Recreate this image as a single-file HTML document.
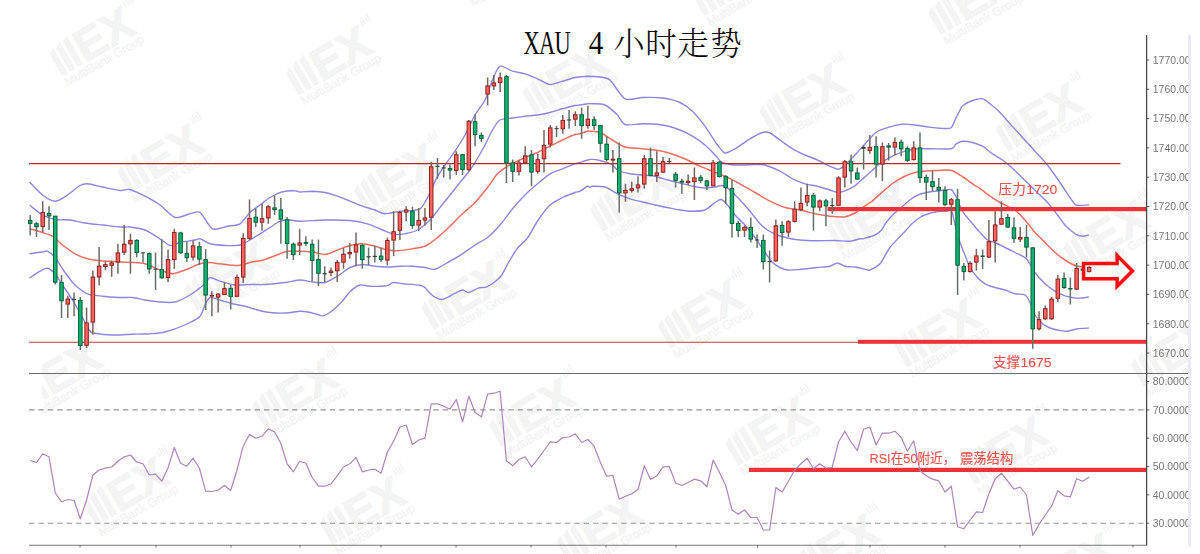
<!DOCTYPE html>
<html lang="zh"><head><meta charset="utf-8"><title>XAU 4 小时走势</title>
<style>
html,body{margin:0;padding:0;background:#fff;}
body{width:1200px;height:554px;overflow:hidden;}
svg{display:block}
</style></head><body>
<svg width="1200" height="554" viewBox="0 0 1200 554">
<defs><filter id="soft" x="0" y="0" width="1200" height="554" filterUnits="userSpaceOnUse"><feGaussianBlur stdDeviation="0.45"/></filter></defs>
<rect width="1200" height="554" fill="#fff"/>
<g font-family="'Liberation Sans', sans-serif" fill="#f4f4f4">
<g transform="translate(263.0,-58.7) rotate(-30)"><path d="M-46,16V-9l6.4,-4.5V16zM-37,16V-11.5l6.4,-4.5V16zM-28,16V-14l6.4,-3V16zM43.5,-12v-6h1.7v6zM46.4,-12v-9h1.7v9zM49.3,-12v-7h1.7v7zM52.2,-12v-10h1.7v10z"/><text x="-19.5" y="16" font-size="45" font-weight="bold" textLength="61" lengthAdjust="spacingAndGlyphs" stroke="#f4f4f4" stroke-width="1.2">EX</text><text x="-46.5" y="27.5" font-size="12.3" textLength="90" stroke="#f4f4f4" stroke-width="0.4" lengthAdjust="spacingAndGlyphs">MultiBank Group</text></g>
<g transform="translate(499.6,-39.7) rotate(-30)"><path d="M-46,16V-9l6.4,-4.5V16zM-37,16V-11.5l6.4,-4.5V16zM-28,16V-14l6.4,-3V16zM43.5,-12v-6h1.7v6zM46.4,-12v-9h1.7v9zM49.3,-12v-7h1.7v7zM52.2,-12v-10h1.7v10z"/><text x="-19.5" y="16" font-size="45" font-weight="bold" textLength="61" lengthAdjust="spacingAndGlyphs" stroke="#f4f4f4" stroke-width="1.2">EX</text><text x="-46.5" y="27.5" font-size="12.3" textLength="90" stroke="#f4f4f4" stroke-width="0.4" lengthAdjust="spacingAndGlyphs">MultiBank Group</text></g>
<g transform="translate(736.2,-20.7) rotate(-30)"><path d="M-46,16V-9l6.4,-4.5V16zM-37,16V-11.5l6.4,-4.5V16zM-28,16V-14l6.4,-3V16zM43.5,-12v-6h1.7v6zM46.4,-12v-9h1.7v9zM49.3,-12v-7h1.7v7zM52.2,-12v-10h1.7v10z"/><text x="-19.5" y="16" font-size="45" font-weight="bold" textLength="61" lengthAdjust="spacingAndGlyphs" stroke="#f4f4f4" stroke-width="1.2">EX</text><text x="-46.5" y="27.5" font-size="12.3" textLength="90" stroke="#f4f4f4" stroke-width="0.4" lengthAdjust="spacingAndGlyphs">MultiBank Group</text></g>
<g transform="translate(972.8,-1.7) rotate(-30)"><path d="M-46,16V-9l6.4,-4.5V16zM-37,16V-11.5l6.4,-4.5V16zM-28,16V-14l6.4,-3V16zM43.5,-12v-6h1.7v6zM46.4,-12v-9h1.7v9zM49.3,-12v-7h1.7v7zM52.2,-12v-10h1.7v10z"/><text x="-19.5" y="16" font-size="45" font-weight="bold" textLength="61" lengthAdjust="spacingAndGlyphs" stroke="#f4f4f4" stroke-width="1.2">EX</text><text x="-46.5" y="27.5" font-size="12.3" textLength="90" stroke="#f4f4f4" stroke-width="0.4" lengthAdjust="spacingAndGlyphs">MultiBank Group</text></g>
<g transform="translate(94.0,39.5) rotate(-30)"><path d="M-46,16V-9l6.4,-4.5V16zM-37,16V-11.5l6.4,-4.5V16zM-28,16V-14l6.4,-3V16zM43.5,-12v-6h1.7v6zM46.4,-12v-9h1.7v9zM49.3,-12v-7h1.7v7zM52.2,-12v-10h1.7v10z"/><text x="-19.5" y="16" font-size="45" font-weight="bold" textLength="61" lengthAdjust="spacingAndGlyphs" stroke="#f4f4f4" stroke-width="1.2">EX</text><text x="-46.5" y="27.5" font-size="12.3" textLength="90" stroke="#f4f4f4" stroke-width="0.4" lengthAdjust="spacingAndGlyphs">MultiBank Group</text></g>
<g transform="translate(330.6,58.5) rotate(-30)"><path d="M-46,16V-9l6.4,-4.5V16zM-37,16V-11.5l6.4,-4.5V16zM-28,16V-14l6.4,-3V16zM43.5,-12v-6h1.7v6zM46.4,-12v-9h1.7v9zM49.3,-12v-7h1.7v7zM52.2,-12v-10h1.7v10z"/><text x="-19.5" y="16" font-size="45" font-weight="bold" textLength="61" lengthAdjust="spacingAndGlyphs" stroke="#f4f4f4" stroke-width="1.2">EX</text><text x="-46.5" y="27.5" font-size="12.3" textLength="90" stroke="#f4f4f4" stroke-width="0.4" lengthAdjust="spacingAndGlyphs">MultiBank Group</text></g>
<g transform="translate(567.2,77.5) rotate(-30)"><path d="M-46,16V-9l6.4,-4.5V16zM-37,16V-11.5l6.4,-4.5V16zM-28,16V-14l6.4,-3V16zM43.5,-12v-6h1.7v6zM46.4,-12v-9h1.7v9zM49.3,-12v-7h1.7v7zM52.2,-12v-10h1.7v10z"/><text x="-19.5" y="16" font-size="45" font-weight="bold" textLength="61" lengthAdjust="spacingAndGlyphs" stroke="#f4f4f4" stroke-width="1.2">EX</text><text x="-46.5" y="27.5" font-size="12.3" textLength="90" stroke="#f4f4f4" stroke-width="0.4" lengthAdjust="spacingAndGlyphs">MultiBank Group</text></g>
<g transform="translate(803.8,96.5) rotate(-30)"><path d="M-46,16V-9l6.4,-4.5V16zM-37,16V-11.5l6.4,-4.5V16zM-28,16V-14l6.4,-3V16zM43.5,-12v-6h1.7v6zM46.4,-12v-9h1.7v9zM49.3,-12v-7h1.7v7zM52.2,-12v-10h1.7v10z"/><text x="-19.5" y="16" font-size="45" font-weight="bold" textLength="61" lengthAdjust="spacingAndGlyphs" stroke="#f4f4f4" stroke-width="1.2">EX</text><text x="-46.5" y="27.5" font-size="12.3" textLength="90" stroke="#f4f4f4" stroke-width="0.4" lengthAdjust="spacingAndGlyphs">MultiBank Group</text></g>
<g transform="translate(1040.4,115.5) rotate(-30)"><path d="M-46,16V-9l6.4,-4.5V16zM-37,16V-11.5l6.4,-4.5V16zM-28,16V-14l6.4,-3V16zM43.5,-12v-6h1.7v6zM46.4,-12v-9h1.7v9zM49.3,-12v-7h1.7v7zM52.2,-12v-10h1.7v10z"/><text x="-19.5" y="16" font-size="45" font-weight="bold" textLength="61" lengthAdjust="spacingAndGlyphs" stroke="#f4f4f4" stroke-width="1.2">EX</text><text x="-46.5" y="27.5" font-size="12.3" textLength="90" stroke="#f4f4f4" stroke-width="0.4" lengthAdjust="spacingAndGlyphs">MultiBank Group</text></g>
<g transform="translate(161.6,156.7) rotate(-30)"><path d="M-46,16V-9l6.4,-4.5V16zM-37,16V-11.5l6.4,-4.5V16zM-28,16V-14l6.4,-3V16zM43.5,-12v-6h1.7v6zM46.4,-12v-9h1.7v9zM49.3,-12v-7h1.7v7zM52.2,-12v-10h1.7v10z"/><text x="-19.5" y="16" font-size="45" font-weight="bold" textLength="61" lengthAdjust="spacingAndGlyphs" stroke="#f4f4f4" stroke-width="1.2">EX</text><text x="-46.5" y="27.5" font-size="12.3" textLength="90" stroke="#f4f4f4" stroke-width="0.4" lengthAdjust="spacingAndGlyphs">MultiBank Group</text></g>
<g transform="translate(398.2,175.7) rotate(-30)"><path d="M-46,16V-9l6.4,-4.5V16zM-37,16V-11.5l6.4,-4.5V16zM-28,16V-14l6.4,-3V16zM43.5,-12v-6h1.7v6zM46.4,-12v-9h1.7v9zM49.3,-12v-7h1.7v7zM52.2,-12v-10h1.7v10z"/><text x="-19.5" y="16" font-size="45" font-weight="bold" textLength="61" lengthAdjust="spacingAndGlyphs" stroke="#f4f4f4" stroke-width="1.2">EX</text><text x="-46.5" y="27.5" font-size="12.3" textLength="90" stroke="#f4f4f4" stroke-width="0.4" lengthAdjust="spacingAndGlyphs">MultiBank Group</text></g>
<g transform="translate(634.8,194.7) rotate(-30)"><path d="M-46,16V-9l6.4,-4.5V16zM-37,16V-11.5l6.4,-4.5V16zM-28,16V-14l6.4,-3V16zM43.5,-12v-6h1.7v6zM46.4,-12v-9h1.7v9zM49.3,-12v-7h1.7v7zM52.2,-12v-10h1.7v10z"/><text x="-19.5" y="16" font-size="45" font-weight="bold" textLength="61" lengthAdjust="spacingAndGlyphs" stroke="#f4f4f4" stroke-width="1.2">EX</text><text x="-46.5" y="27.5" font-size="12.3" textLength="90" stroke="#f4f4f4" stroke-width="0.4" lengthAdjust="spacingAndGlyphs">MultiBank Group</text></g>
<g transform="translate(871.4,213.7) rotate(-30)"><path d="M-46,16V-9l6.4,-4.5V16zM-37,16V-11.5l6.4,-4.5V16zM-28,16V-14l6.4,-3V16zM43.5,-12v-6h1.7v6zM46.4,-12v-9h1.7v9zM49.3,-12v-7h1.7v7zM52.2,-12v-10h1.7v10z"/><text x="-19.5" y="16" font-size="45" font-weight="bold" textLength="61" lengthAdjust="spacingAndGlyphs" stroke="#f4f4f4" stroke-width="1.2">EX</text><text x="-46.5" y="27.5" font-size="12.3" textLength="90" stroke="#f4f4f4" stroke-width="0.4" lengthAdjust="spacingAndGlyphs">MultiBank Group</text></g>
<g transform="translate(1108.0,232.7) rotate(-30)"><path d="M-46,16V-9l6.4,-4.5V16zM-37,16V-11.5l6.4,-4.5V16zM-28,16V-14l6.4,-3V16zM43.5,-12v-6h1.7v6zM46.4,-12v-9h1.7v9zM49.3,-12v-7h1.7v7zM52.2,-12v-10h1.7v10z"/><text x="-19.5" y="16" font-size="45" font-weight="bold" textLength="61" lengthAdjust="spacingAndGlyphs" stroke="#f4f4f4" stroke-width="1.2">EX</text><text x="-46.5" y="27.5" font-size="12.3" textLength="90" stroke="#f4f4f4" stroke-width="0.4" lengthAdjust="spacingAndGlyphs">MultiBank Group</text></g>
<g transform="translate(229.2,273.9) rotate(-30)"><path d="M-46,16V-9l6.4,-4.5V16zM-37,16V-11.5l6.4,-4.5V16zM-28,16V-14l6.4,-3V16zM43.5,-12v-6h1.7v6zM46.4,-12v-9h1.7v9zM49.3,-12v-7h1.7v7zM52.2,-12v-10h1.7v10z"/><text x="-19.5" y="16" font-size="45" font-weight="bold" textLength="61" lengthAdjust="spacingAndGlyphs" stroke="#f4f4f4" stroke-width="1.2">EX</text><text x="-46.5" y="27.5" font-size="12.3" textLength="90" stroke="#f4f4f4" stroke-width="0.4" lengthAdjust="spacingAndGlyphs">MultiBank Group</text></g>
<g transform="translate(465.8,292.9) rotate(-30)"><path d="M-46,16V-9l6.4,-4.5V16zM-37,16V-11.5l6.4,-4.5V16zM-28,16V-14l6.4,-3V16zM43.5,-12v-6h1.7v6zM46.4,-12v-9h1.7v9zM49.3,-12v-7h1.7v7zM52.2,-12v-10h1.7v10z"/><text x="-19.5" y="16" font-size="45" font-weight="bold" textLength="61" lengthAdjust="spacingAndGlyphs" stroke="#f4f4f4" stroke-width="1.2">EX</text><text x="-46.5" y="27.5" font-size="12.3" textLength="90" stroke="#f4f4f4" stroke-width="0.4" lengthAdjust="spacingAndGlyphs">MultiBank Group</text></g>
<g transform="translate(702.4,311.9) rotate(-30)"><path d="M-46,16V-9l6.4,-4.5V16zM-37,16V-11.5l6.4,-4.5V16zM-28,16V-14l6.4,-3V16zM43.5,-12v-6h1.7v6zM46.4,-12v-9h1.7v9zM49.3,-12v-7h1.7v7zM52.2,-12v-10h1.7v10z"/><text x="-19.5" y="16" font-size="45" font-weight="bold" textLength="61" lengthAdjust="spacingAndGlyphs" stroke="#f4f4f4" stroke-width="1.2">EX</text><text x="-46.5" y="27.5" font-size="12.3" textLength="90" stroke="#f4f4f4" stroke-width="0.4" lengthAdjust="spacingAndGlyphs">MultiBank Group</text></g>
<g transform="translate(939.0,330.9) rotate(-30)"><path d="M-46,16V-9l6.4,-4.5V16zM-37,16V-11.5l6.4,-4.5V16zM-28,16V-14l6.4,-3V16zM43.5,-12v-6h1.7v6zM46.4,-12v-9h1.7v9zM49.3,-12v-7h1.7v7zM52.2,-12v-10h1.7v10z"/><text x="-19.5" y="16" font-size="45" font-weight="bold" textLength="61" lengthAdjust="spacingAndGlyphs" stroke="#f4f4f4" stroke-width="1.2">EX</text><text x="-46.5" y="27.5" font-size="12.3" textLength="90" stroke="#f4f4f4" stroke-width="0.4" lengthAdjust="spacingAndGlyphs">MultiBank Group</text></g>
<g transform="translate(1175.6,349.9) rotate(-30)"><path d="M-46,16V-9l6.4,-4.5V16zM-37,16V-11.5l6.4,-4.5V16zM-28,16V-14l6.4,-3V16zM43.5,-12v-6h1.7v6zM46.4,-12v-9h1.7v9zM49.3,-12v-7h1.7v7zM52.2,-12v-10h1.7v10z"/><text x="-19.5" y="16" font-size="45" font-weight="bold" textLength="61" lengthAdjust="spacingAndGlyphs" stroke="#f4f4f4" stroke-width="1.2">EX</text><text x="-46.5" y="27.5" font-size="12.3" textLength="90" stroke="#f4f4f4" stroke-width="0.4" lengthAdjust="spacingAndGlyphs">MultiBank Group</text></g>
<g transform="translate(60.2,372.1) rotate(-30)"><path d="M-46,16V-9l6.4,-4.5V16zM-37,16V-11.5l6.4,-4.5V16zM-28,16V-14l6.4,-3V16zM43.5,-12v-6h1.7v6zM46.4,-12v-9h1.7v9zM49.3,-12v-7h1.7v7zM52.2,-12v-10h1.7v10z"/><text x="-19.5" y="16" font-size="45" font-weight="bold" textLength="61" lengthAdjust="spacingAndGlyphs" stroke="#f4f4f4" stroke-width="1.2">EX</text><text x="-46.5" y="27.5" font-size="12.3" textLength="90" stroke="#f4f4f4" stroke-width="0.4" lengthAdjust="spacingAndGlyphs">MultiBank Group</text></g>
<g transform="translate(296.8,391.1) rotate(-30)"><path d="M-46,16V-9l6.4,-4.5V16zM-37,16V-11.5l6.4,-4.5V16zM-28,16V-14l6.4,-3V16zM43.5,-12v-6h1.7v6zM46.4,-12v-9h1.7v9zM49.3,-12v-7h1.7v7zM52.2,-12v-10h1.7v10z"/><text x="-19.5" y="16" font-size="45" font-weight="bold" textLength="61" lengthAdjust="spacingAndGlyphs" stroke="#f4f4f4" stroke-width="1.2">EX</text><text x="-46.5" y="27.5" font-size="12.3" textLength="90" stroke="#f4f4f4" stroke-width="0.4" lengthAdjust="spacingAndGlyphs">MultiBank Group</text></g>
<g transform="translate(533.4,410.1) rotate(-30)"><path d="M-46,16V-9l6.4,-4.5V16zM-37,16V-11.5l6.4,-4.5V16zM-28,16V-14l6.4,-3V16zM43.5,-12v-6h1.7v6zM46.4,-12v-9h1.7v9zM49.3,-12v-7h1.7v7zM52.2,-12v-10h1.7v10z"/><text x="-19.5" y="16" font-size="45" font-weight="bold" textLength="61" lengthAdjust="spacingAndGlyphs" stroke="#f4f4f4" stroke-width="1.2">EX</text><text x="-46.5" y="27.5" font-size="12.3" textLength="90" stroke="#f4f4f4" stroke-width="0.4" lengthAdjust="spacingAndGlyphs">MultiBank Group</text></g>
<g transform="translate(770.0,429.1) rotate(-30)"><path d="M-46,16V-9l6.4,-4.5V16zM-37,16V-11.5l6.4,-4.5V16zM-28,16V-14l6.4,-3V16zM43.5,-12v-6h1.7v6zM46.4,-12v-9h1.7v9zM49.3,-12v-7h1.7v7zM52.2,-12v-10h1.7v10z"/><text x="-19.5" y="16" font-size="45" font-weight="bold" textLength="61" lengthAdjust="spacingAndGlyphs" stroke="#f4f4f4" stroke-width="1.2">EX</text><text x="-46.5" y="27.5" font-size="12.3" textLength="90" stroke="#f4f4f4" stroke-width="0.4" lengthAdjust="spacingAndGlyphs">MultiBank Group</text></g>
<g transform="translate(1006.6,448.1) rotate(-30)"><path d="M-46,16V-9l6.4,-4.5V16zM-37,16V-11.5l6.4,-4.5V16zM-28,16V-14l6.4,-3V16zM43.5,-12v-6h1.7v6zM46.4,-12v-9h1.7v9zM49.3,-12v-7h1.7v7zM52.2,-12v-10h1.7v10z"/><text x="-19.5" y="16" font-size="45" font-weight="bold" textLength="61" lengthAdjust="spacingAndGlyphs" stroke="#f4f4f4" stroke-width="1.2">EX</text><text x="-46.5" y="27.5" font-size="12.3" textLength="90" stroke="#f4f4f4" stroke-width="0.4" lengthAdjust="spacingAndGlyphs">MultiBank Group</text></g>
<g transform="translate(127.8,489.3) rotate(-30)"><path d="M-46,16V-9l6.4,-4.5V16zM-37,16V-11.5l6.4,-4.5V16zM-28,16V-14l6.4,-3V16zM43.5,-12v-6h1.7v6zM46.4,-12v-9h1.7v9zM49.3,-12v-7h1.7v7zM52.2,-12v-10h1.7v10z"/><text x="-19.5" y="16" font-size="45" font-weight="bold" textLength="61" lengthAdjust="spacingAndGlyphs" stroke="#f4f4f4" stroke-width="1.2">EX</text><text x="-46.5" y="27.5" font-size="12.3" textLength="90" stroke="#f4f4f4" stroke-width="0.4" lengthAdjust="spacingAndGlyphs">MultiBank Group</text></g>
<g transform="translate(364.4,508.3) rotate(-30)"><path d="M-46,16V-9l6.4,-4.5V16zM-37,16V-11.5l6.4,-4.5V16zM-28,16V-14l6.4,-3V16zM43.5,-12v-6h1.7v6zM46.4,-12v-9h1.7v9zM49.3,-12v-7h1.7v7zM52.2,-12v-10h1.7v10z"/><text x="-19.5" y="16" font-size="45" font-weight="bold" textLength="61" lengthAdjust="spacingAndGlyphs" stroke="#f4f4f4" stroke-width="1.2">EX</text><text x="-46.5" y="27.5" font-size="12.3" textLength="90" stroke="#f4f4f4" stroke-width="0.4" lengthAdjust="spacingAndGlyphs">MultiBank Group</text></g>
<g transform="translate(601.0,527.3) rotate(-30)"><path d="M-46,16V-9l6.4,-4.5V16zM-37,16V-11.5l6.4,-4.5V16zM-28,16V-14l6.4,-3V16zM43.5,-12v-6h1.7v6zM46.4,-12v-9h1.7v9zM49.3,-12v-7h1.7v7zM52.2,-12v-10h1.7v10z"/><text x="-19.5" y="16" font-size="45" font-weight="bold" textLength="61" lengthAdjust="spacingAndGlyphs" stroke="#f4f4f4" stroke-width="1.2">EX</text><text x="-46.5" y="27.5" font-size="12.3" textLength="90" stroke="#f4f4f4" stroke-width="0.4" lengthAdjust="spacingAndGlyphs">MultiBank Group</text></g>
<g transform="translate(837.6,546.3) rotate(-30)"><path d="M-46,16V-9l6.4,-4.5V16zM-37,16V-11.5l6.4,-4.5V16zM-28,16V-14l6.4,-3V16zM43.5,-12v-6h1.7v6zM46.4,-12v-9h1.7v9zM49.3,-12v-7h1.7v7zM52.2,-12v-10h1.7v10z"/><text x="-19.5" y="16" font-size="45" font-weight="bold" textLength="61" lengthAdjust="spacingAndGlyphs" stroke="#f4f4f4" stroke-width="1.2">EX</text><text x="-46.5" y="27.5" font-size="12.3" textLength="90" stroke="#f4f4f4" stroke-width="0.4" lengthAdjust="spacingAndGlyphs">MultiBank Group</text></g>
<g transform="translate(1074.2,565.3) rotate(-30)"><path d="M-46,16V-9l6.4,-4.5V16zM-37,16V-11.5l6.4,-4.5V16zM-28,16V-14l6.4,-3V16zM43.5,-12v-6h1.7v6zM46.4,-12v-9h1.7v9zM49.3,-12v-7h1.7v7zM52.2,-12v-10h1.7v10z"/><text x="-19.5" y="16" font-size="45" font-weight="bold" textLength="61" lengthAdjust="spacingAndGlyphs" stroke="#f4f4f4" stroke-width="1.2">EX</text><text x="-46.5" y="27.5" font-size="12.3" textLength="90" stroke="#f4f4f4" stroke-width="0.4" lengthAdjust="spacingAndGlyphs">MultiBank Group</text></g>
<g transform="translate(195.4,606.5) rotate(-30)"><path d="M-46,16V-9l6.4,-4.5V16zM-37,16V-11.5l6.4,-4.5V16zM-28,16V-14l6.4,-3V16zM43.5,-12v-6h1.7v6zM46.4,-12v-9h1.7v9zM49.3,-12v-7h1.7v7zM52.2,-12v-10h1.7v10z"/><text x="-19.5" y="16" font-size="45" font-weight="bold" textLength="61" lengthAdjust="spacingAndGlyphs" stroke="#f4f4f4" stroke-width="1.2">EX</text><text x="-46.5" y="27.5" font-size="12.3" textLength="90" stroke="#f4f4f4" stroke-width="0.4" lengthAdjust="spacingAndGlyphs">MultiBank Group</text></g>
</g>
<rect x="0" y="0" width="42" height="554" fill="#fff"/>
<g filter="url(#soft)">
<path d="M29.5,182.0C31.2,183.7 39.1,192.4 42.5,195.0C45.9,197.6 51.7,201.2 55.0,201.2C58.3,201.2 64.2,197.1 67.5,195.0C70.8,192.9 77.3,187.0 80.0,185.5C82.7,184.0 84.5,183.6 87.5,183.8C90.5,183.9 98.2,186.1 102.5,187.0C106.8,187.9 116.3,190.2 120.0,190.5C123.7,190.8 126.7,188.7 130.0,189.5C133.3,190.3 141.0,194.2 145.0,196.2C149.0,198.3 156.0,202.2 160.0,205.0C164.0,207.8 171.0,216.3 175.0,217.5C179.0,218.7 186.7,214.4 190.0,213.8C193.3,213.1 197.0,210.5 200.0,212.5C203.0,214.5 208.8,226.9 212.5,228.8C216.2,230.6 223.8,226.9 227.5,226.2C231.2,225.6 237.0,225.6 240.0,223.8C243.0,221.9 247.3,215.0 250.0,212.5C252.7,210.0 257.3,207.0 260.0,205.0C262.7,203.0 267.0,199.3 270.0,197.5C273.0,195.7 279.2,192.7 282.5,191.8C285.8,190.8 292.7,190.7 295.0,190.8C297.3,190.8 297.7,191.9 300.0,192.0C302.3,192.1 309.2,191.2 312.5,191.2C315.8,191.3 321.7,191.8 325.0,192.5C328.3,193.2 334.2,195.1 337.5,196.2C340.8,197.4 346.7,199.9 350.0,201.2C353.3,202.6 359.2,205.1 362.5,206.2C365.8,207.4 372.0,209.0 375.0,210.0C378.0,211.0 381.7,213.6 385.0,213.8C388.3,213.9 395.3,211.9 400.0,211.2C404.7,210.6 416.0,211.2 420.0,208.8C424.0,206.2 427.8,196.5 430.0,192.5C432.2,188.5 434.2,182.4 436.2,178.8C438.2,175.1 442.5,168.7 445.0,165.0C447.5,161.3 452.3,155.2 455.0,151.2C457.7,147.2 462.3,139.8 465.0,135.0C467.7,130.2 472.3,119.7 475.0,115.0C477.7,110.3 482.7,104.7 485.0,100.0C487.3,95.3 490.5,84.5 492.5,80.0C494.5,75.5 497.3,67.4 500.0,66.2C502.7,65.1 509.2,70.2 512.5,71.2C515.8,72.2 521.7,72.8 525.0,73.8C528.3,74.8 534.2,77.3 537.5,78.8C540.8,80.2 546.7,84.2 550.0,84.5C553.3,84.8 559.2,82.2 562.5,81.2C565.8,80.3 571.7,78.2 575.0,77.5C578.3,76.8 584.2,76.3 587.5,76.2C590.8,76.2 597.0,76.5 600.0,77.0C603.0,77.5 606.7,77.1 610.0,80.0C613.3,82.9 620.7,96.4 625.0,98.8C629.3,101.1 637.5,97.6 642.5,97.5C647.5,97.4 657.5,97.3 662.5,98.0C667.5,98.7 676.0,100.7 680.0,102.5C684.0,104.3 689.2,108.1 692.5,111.2C695.8,114.4 701.7,121.8 705.0,126.2C708.3,130.8 714.8,141.4 717.5,145.0C720.2,148.6 722.7,152.5 725.0,153.0C727.3,153.5 731.7,150.7 735.0,148.8C738.3,146.8 746.3,140.9 750.0,138.8C753.7,136.6 759.8,133.3 762.5,132.5C765.2,131.7 767.7,132.0 770.0,133.0C772.3,134.0 777.0,137.9 780.0,140.0C783.0,142.1 789.2,146.8 792.5,148.8C795.8,150.8 801.7,153.5 805.0,155.0C808.3,156.5 814.2,158.5 817.5,160.0C820.8,161.5 827.2,165.0 830.0,166.2C832.8,167.5 836.8,169.4 838.8,169.2C840.8,169.1 842.8,166.9 845.0,165.0C847.2,163.1 851.9,158.2 855.0,155.0C858.1,151.8 865.2,143.7 868.1,140.6C871.0,137.5 873.8,133.6 876.8,131.8C879.7,129.9 886.7,127.8 890.0,126.8C893.3,125.8 898.6,124.5 901.8,124.2C904.9,124.0 909.9,124.4 913.2,124.8C916.6,125.1 923.2,126.3 926.8,126.8C930.3,127.2 936.8,128.1 940.0,128.2C943.2,128.4 948.8,129.1 950.8,128.0C952.8,126.9 953.8,122.4 955.0,120.0C956.2,117.6 958.9,111.9 960.0,110.0C961.1,108.1 961.3,106.8 963.0,105.5C964.7,104.2 969.9,101.4 972.5,100.5C975.1,99.6 980.2,98.3 982.5,98.8C984.8,99.2 987.7,101.9 990.0,103.8C992.3,105.6 997.3,109.8 1000.0,112.5C1002.7,115.2 1007.0,120.4 1010.0,123.8C1013.0,127.1 1019.2,133.8 1022.5,137.5C1025.8,141.2 1031.7,147.6 1035.0,151.2C1038.3,154.9 1044.2,160.8 1047.5,165.0C1050.8,169.2 1057.0,178.2 1060.0,182.5C1063.0,186.8 1067.8,194.5 1070.0,197.5C1072.2,200.5 1073.8,204.0 1076.2,205.0C1078.8,206.0 1087.1,205.0 1088.8,205.0" fill="none" stroke="#8e86de" stroke-width="1.4" stroke-linejoin="round"/>
<path d="M29.5,205.0C31.2,206.3 39.1,213.1 42.5,215.0C45.9,216.9 51.3,218.8 55.0,219.5C58.7,220.2 66.0,219.5 70.0,220.0C74.0,220.5 80.7,222.3 85.0,223.0C89.3,223.7 97.8,224.5 102.5,225.0C107.2,225.5 116.3,226.7 120.0,227.0C123.7,227.3 126.7,226.6 130.0,227.0C133.3,227.4 141.0,228.4 145.0,230.0C149.0,231.6 156.7,236.7 160.0,238.8C163.3,240.8 167.3,245.0 170.0,245.5C172.7,246.0 176.7,243.2 180.0,242.5C183.3,241.8 192.3,240.5 195.0,240.0C197.7,239.5 198.0,238.2 200.0,238.8C202.0,239.2 206.7,242.8 210.0,243.8C213.3,244.7 221.0,245.3 225.0,245.5C229.0,245.7 236.7,245.7 240.0,245.0C243.3,244.3 247.3,241.5 250.0,240.0C252.7,238.5 257.3,235.4 260.0,233.8C262.7,232.1 267.3,229.2 270.0,227.5C272.7,225.8 277.3,222.2 280.0,221.2C282.7,220.2 287.3,220.0 290.0,220.0C292.7,220.0 295.3,221.2 300.0,221.2C304.7,221.2 318.3,220.1 325.0,220.0C331.7,219.9 344.3,220.0 350.0,220.5C355.7,221.0 363.2,222.5 367.5,223.8C371.8,225.0 378.8,228.6 382.5,230.0C386.2,231.4 392.0,234.0 395.0,234.5C398.0,235.0 402.0,234.3 405.0,233.8C408.0,233.2 414.2,231.8 417.5,230.0C420.8,228.2 427.0,223.0 430.0,220.0C433.0,217.0 437.3,210.8 440.0,207.5C442.7,204.2 447.3,198.3 450.0,195.0C452.7,191.7 457.3,185.8 460.0,182.5C462.7,179.2 468.0,172.7 470.0,170.0C472.0,167.3 473.0,165.8 475.0,162.5C477.0,159.2 482.7,149.3 485.0,145.0C487.3,140.7 490.5,133.3 492.5,130.0C494.5,126.7 497.3,121.6 500.0,120.0C502.7,118.4 509.2,118.5 512.5,118.0C515.8,117.5 521.7,116.7 525.0,116.2C528.3,115.8 534.2,115.5 537.5,115.0C540.8,114.5 546.7,113.3 550.0,112.5C553.3,111.7 559.2,109.7 562.5,108.8C565.8,107.8 572.7,106.0 575.0,105.5C577.3,105.0 578.3,105.2 580.0,105.0C581.7,104.8 585.8,103.9 587.5,103.8C589.2,103.6 590.2,103.6 592.5,103.8C594.8,103.9 601.7,103.5 605.0,105.0C608.3,106.5 614.8,112.4 617.5,115.0C620.2,117.6 621.7,123.3 625.0,124.5C628.3,125.7 637.5,123.7 642.5,123.8C647.5,123.8 657.5,124.2 662.5,125.0C667.5,125.8 676.0,128.5 680.0,130.0C684.0,131.5 689.2,134.2 692.5,136.2C695.8,138.2 702.0,142.5 705.0,145.0C708.0,147.5 712.7,152.7 715.0,155.0C717.3,157.3 719.8,161.2 722.5,162.5C725.2,163.8 730.7,164.7 735.0,165.0C739.3,165.3 751.0,164.5 755.0,164.5C759.0,164.5 761.7,164.1 765.0,165.0C768.3,165.9 776.3,169.4 780.0,171.2C783.7,173.1 789.2,177.1 792.5,178.8C795.8,180.4 801.7,182.8 805.0,183.8C808.3,184.8 814.2,185.4 817.5,186.2C820.8,187.1 827.3,189.2 830.0,190.0C832.7,190.8 835.5,192.4 837.5,192.5C839.5,192.6 842.7,191.7 845.0,190.8C847.3,189.8 853.0,187.0 855.0,185.8C857.0,184.5 858.0,183.0 860.0,181.2C862.0,179.5 867.3,174.8 870.0,172.5C872.7,170.2 877.0,165.9 880.0,163.8C883.0,161.6 889.2,157.9 892.5,156.2C895.8,154.6 901.7,152.2 905.0,151.2C908.3,150.2 914.2,149.1 917.5,148.8C920.8,148.4 925.5,148.8 930.0,148.8C934.5,148.8 947.8,149.4 951.2,148.8C954.8,148.1 954.8,144.8 956.2,143.8C957.8,142.8 960.3,141.4 962.5,141.2C964.7,141.1 969.8,141.8 972.5,142.5C975.2,143.2 979.8,144.8 982.5,146.2C985.2,147.8 989.8,151.9 992.5,153.8C995.2,155.6 999.8,158.1 1002.5,160.0C1005.2,161.9 1009.8,165.8 1012.5,168.2C1015.2,170.7 1019.5,175.1 1022.5,178.0C1025.5,180.9 1031.7,187.0 1035.0,190.2C1038.3,193.5 1044.5,199.2 1047.5,202.5C1050.5,205.8 1055.2,212.0 1057.5,215.0C1059.8,218.0 1062.7,222.5 1065.0,225.0C1067.3,227.5 1072.7,232.2 1075.0,233.8C1077.3,235.2 1080.7,236.1 1082.5,236.2C1084.3,236.4 1087.9,235.2 1088.8,235.0" fill="none" stroke="#8e86de" stroke-width="1.4" stroke-linejoin="round"/>
<path d="M29.5,253.8C31.2,253.5 40.1,252.3 42.5,252.0C44.9,251.7 45.8,250.5 47.5,251.2C49.2,252.0 52.7,254.7 55.0,257.5C57.3,260.3 62.3,268.8 65.0,272.5C67.7,276.2 72.0,282.2 75.0,285.0C78.0,287.8 83.8,292.2 87.5,293.8C91.2,295.2 98.2,295.8 102.5,296.2C106.8,296.8 116.0,297.3 120.0,297.5C124.0,297.7 129.2,297.2 132.5,297.5C135.8,297.8 141.3,299.4 145.0,300.0C148.7,300.6 156.0,301.7 160.0,302.0C164.0,302.3 171.0,302.9 175.0,302.0C179.0,301.1 186.0,297.4 190.0,295.0C194.0,292.6 202.3,286.1 205.0,283.8C207.7,281.4 208.0,277.8 210.0,277.5C212.0,277.2 216.7,280.2 220.0,281.2C223.3,282.2 231.0,284.6 235.0,285.0C239.0,285.4 246.0,284.6 250.0,284.5C254.0,284.4 260.3,284.8 265.0,284.5C269.7,284.2 280.3,283.1 285.0,282.5C289.7,281.9 296.3,280.1 300.0,280.0C303.7,279.9 309.2,281.7 312.5,282.0C315.8,282.3 321.7,283.3 325.0,282.5C328.3,281.7 334.2,278.2 337.5,276.2C340.8,274.2 346.7,269.1 350.0,267.5C353.3,265.9 359.2,264.7 362.5,264.5C365.8,264.3 371.7,265.9 375.0,266.2C378.3,266.6 384.2,267.0 387.5,267.0C390.8,267.0 396.7,266.4 400.0,266.2C403.3,266.1 409.2,266.1 412.5,266.2C415.8,266.4 422.0,267.1 425.0,267.5C428.0,267.9 431.7,270.1 435.0,269.2C438.3,268.4 446.3,263.3 450.0,261.2C453.7,259.2 459.2,255.9 462.5,253.8C465.8,251.6 471.7,247.2 475.0,245.0C478.3,242.8 484.2,240.2 487.5,237.5C490.8,234.8 496.7,228.8 500.0,225.0C503.3,221.2 509.2,212.8 512.5,208.8C515.8,204.8 521.7,198.3 525.0,195.0C528.3,191.7 534.2,186.6 537.5,183.8C540.8,180.9 546.7,175.8 550.0,173.8C553.3,171.8 559.2,170.1 562.5,168.8C565.8,167.4 572.7,164.6 575.0,163.8C577.3,162.9 578.0,163.1 580.0,162.5C582.0,161.9 587.3,159.8 590.0,159.5C592.7,159.2 597.0,159.8 600.0,160.5C603.0,161.2 610.2,163.7 612.5,165.0C614.8,166.3 615.2,168.8 617.5,170.0C619.8,171.2 626.7,173.1 630.0,173.8C633.3,174.4 639.2,174.7 642.5,175.0C645.8,175.3 651.7,175.6 655.0,176.2C658.3,176.9 664.2,179.1 667.5,180.0C670.8,180.9 676.7,182.2 680.0,183.0C683.3,183.8 689.2,185.6 692.5,186.2C695.8,186.9 702.0,187.9 705.0,188.0C708.0,188.1 712.7,187.3 715.0,187.0C717.3,186.7 720.5,185.1 722.5,185.5C724.5,185.9 727.7,188.1 730.0,190.0C732.3,191.9 737.3,197.2 740.0,200.0C742.7,202.8 747.3,208.1 750.0,211.2C752.7,214.4 757.7,221.2 760.0,223.8C762.3,226.2 765.2,228.5 767.5,230.0C769.8,231.5 774.8,233.9 777.5,235.0C780.2,236.1 784.5,237.3 787.5,238.0C790.5,238.7 796.0,239.6 800.0,240.0C804.0,240.4 812.8,240.7 817.5,240.8C822.2,240.8 830.7,240.4 835.0,240.5C839.3,240.6 846.7,241.5 850.0,241.2C853.3,241.0 858.3,239.1 860.0,238.8C861.7,238.4 860.5,239.2 862.5,238.8C864.5,238.2 872.5,236.2 875.0,235.0C877.5,233.8 880.1,231.6 881.5,230.0C882.9,228.4 884.2,225.1 885.8,223.0C887.3,220.9 891.1,216.7 893.2,214.5C895.4,212.3 899.7,208.8 902.0,206.8C904.3,204.7 908.5,200.9 910.8,199.2C913.0,197.6 917.0,195.4 919.2,194.5C921.5,193.6 925.7,192.7 928.0,192.2C930.3,191.8 934.5,191.3 936.8,191.0C939.0,190.7 943.3,190.2 945.2,190.0C947.2,189.8 950.1,189.1 951.2,189.5C952.4,189.9 953.2,192.0 954.0,193.2C954.8,194.5 956.5,197.2 957.2,198.8C958.0,200.3 958.6,202.8 959.5,204.8C960.4,206.7 962.5,211.2 963.8,213.2C965.0,215.2 967.8,218.0 969.2,219.8C970.7,221.5 973.4,224.9 974.5,226.2C975.6,227.6 976.9,229.0 977.8,230.0C978.6,231.0 980.0,232.4 981.2,233.8C982.5,235.1 985.7,238.8 987.5,240.0C989.3,241.2 992.7,241.5 995.0,242.5C997.3,243.5 1002.3,246.2 1005.0,247.5C1007.7,248.8 1012.7,251.3 1015.0,252.5C1017.3,253.7 1020.8,255.2 1022.5,256.2C1024.2,257.2 1025.8,257.8 1027.5,260.0C1029.2,262.2 1032.7,269.3 1035.0,272.5C1037.3,275.7 1042.3,281.2 1045.0,283.8C1047.7,286.2 1052.3,289.6 1055.0,291.2C1057.7,292.9 1062.3,294.9 1065.0,295.8C1067.7,296.6 1072.7,297.7 1075.0,298.0C1077.3,298.3 1080.7,298.1 1082.5,298.0C1084.3,297.9 1087.9,297.1 1088.8,297.0" fill="none" stroke="#8e86de" stroke-width="1.4" stroke-linejoin="round"/>
<path d="M29.5,278.0C30.9,277.1 37.6,272.6 40.0,271.2C42.4,269.9 45.5,267.9 47.5,268.2C49.5,268.6 53.0,271.5 55.0,273.8C57.0,276.0 60.2,281.5 62.5,285.0C64.8,288.5 69.8,295.7 72.5,300.0C75.2,304.3 80.2,313.3 82.5,317.5C84.8,321.7 88.3,329.1 90.0,331.2C91.7,333.4 92.0,332.8 95.0,333.2C98.0,333.8 107.5,334.9 112.5,335.0C117.5,335.1 127.5,334.4 132.5,334.2C137.5,334.1 146.0,334.0 150.0,333.8C154.0,333.5 159.2,333.2 162.5,332.5C165.8,331.8 171.3,330.1 175.0,328.8C178.7,327.4 186.7,324.2 190.0,322.5C193.3,320.8 198.0,318.6 200.0,316.2C202.0,313.9 203.7,307.5 205.0,305.0C206.3,302.5 208.0,298.2 210.0,297.5C212.0,296.8 217.0,299.2 220.0,300.0C223.0,300.8 229.2,302.9 232.5,303.8C235.8,304.6 241.7,305.4 245.0,306.2C248.3,307.1 254.2,309.2 257.5,310.0C260.8,310.8 266.3,312.1 270.0,312.5C273.7,312.9 281.0,313.2 285.0,313.0C289.0,312.8 297.1,311.4 300.0,311.2C302.9,311.1 304.5,311.4 306.8,311.8C309.0,312.1 314.6,313.7 316.8,314.2C318.9,314.8 321.1,316.3 323.2,315.8C325.4,315.2 330.8,311.9 333.2,310.0C335.7,308.1 339.5,304.2 341.8,301.8C344.0,299.3 347.6,294.0 350.0,291.8C352.4,289.5 357.3,285.7 360.0,285.0C362.7,284.3 366.4,286.1 370.0,286.2C373.6,286.4 383.6,286.2 386.8,285.8C389.9,285.2 391.1,282.8 393.2,282.5C395.4,282.2 399.7,283.4 403.2,283.8C406.8,284.1 417.1,284.8 420.0,285.2C422.9,285.8 423.7,286.4 425.0,287.5C426.3,288.6 428.4,291.8 430.0,293.2C431.6,294.7 435.0,297.4 436.8,298.2C438.5,299.1 441.1,299.8 443.2,299.2C445.4,298.7 450.7,295.5 453.2,294.2C455.8,293.0 460.5,290.2 462.5,290.0C464.5,289.8 466.1,292.7 468.2,292.5C470.4,292.3 475.8,289.0 478.2,288.2C480.7,287.5 484.5,287.6 486.8,286.8C489.0,285.9 493.0,283.3 495.0,281.8C497.0,280.2 499.9,277.6 501.8,275.0C503.6,272.4 506.6,265.6 508.8,262.0C510.9,258.4 515.0,251.4 517.5,248.2C520.0,245.1 524.7,241.8 527.5,238.0C530.3,234.2 535.2,224.4 538.2,220.0C541.2,215.6 546.8,208.0 550.0,205.0C553.2,202.0 559.2,199.2 562.5,197.5C565.8,195.8 572.7,193.3 575.0,192.5C577.3,191.7 578.3,192.1 580.0,191.2C581.7,190.4 586.2,186.8 587.5,186.2C588.8,185.8 589.3,187.5 590.0,187.5C590.7,187.5 590.5,186.3 592.5,186.2C594.5,186.2 601.7,186.0 605.0,187.0C608.3,188.0 614.2,192.2 617.5,193.8C620.8,195.3 626.3,197.6 630.0,198.8C633.7,199.9 641.7,201.7 645.0,202.5C648.3,203.3 652.0,204.3 655.0,205.0C658.0,205.7 664.2,206.8 667.5,207.5C670.8,208.2 676.7,209.5 680.0,210.0C683.3,210.5 689.2,211.2 692.5,211.2C695.8,211.2 702.0,211.2 705.0,210.0C708.0,208.8 712.8,203.9 715.0,202.5C717.2,201.1 719.6,199.2 721.2,199.5C722.9,199.8 725.7,202.9 727.5,205.0C729.3,207.1 732.7,212.3 735.0,215.0C737.3,217.7 742.3,222.0 745.0,225.0C747.7,228.0 752.3,233.8 755.0,237.5C757.7,241.2 762.7,249.2 765.0,252.5C767.3,255.8 770.5,260.5 772.5,262.5C774.5,264.5 778.0,266.5 780.0,267.5C782.0,268.5 784.8,269.7 787.5,270.0C790.2,270.3 796.0,269.8 800.0,269.5C804.0,269.2 813.5,267.9 817.5,267.5C821.5,267.1 827.3,266.9 830.0,266.2C832.7,265.6 835.5,263.0 837.5,263.0C839.5,263.0 842.7,265.7 845.0,266.2C847.3,266.8 853.0,266.8 855.0,267.0C857.0,267.2 858.3,267.6 860.0,268.0C861.7,268.4 866.2,269.7 867.5,270.0C868.8,270.3 868.3,270.8 870.0,270.0C871.7,269.2 877.3,266.8 880.0,263.8C882.7,260.8 886.5,252.0 890.0,247.5C893.5,243.0 903.2,233.3 906.2,230.0C909.3,226.7 910.7,224.8 912.8,223.0C914.8,221.2 919.2,217.8 921.5,216.5C923.8,215.2 928.2,213.9 930.2,213.2C932.3,212.6 935.0,212.0 936.8,211.8C938.5,211.5 941.8,211.3 943.2,211.2C944.7,211.2 946.4,211.1 947.5,211.0C948.6,210.9 950.5,209.7 951.2,210.2C952.0,210.8 952.5,213.6 953.0,215.5C953.5,217.4 954.5,222.3 955.0,224.2C955.5,226.2 956.1,227.6 956.8,230.0C957.4,232.4 958.9,239.2 960.0,242.5C961.1,245.8 963.7,251.7 965.0,255.0C966.3,258.3 968.3,264.5 970.0,267.5C971.7,270.5 975.5,275.3 977.5,277.5C979.5,279.7 982.7,282.4 985.0,283.8C987.3,285.1 992.3,286.7 995.0,287.5C997.7,288.3 1002.3,289.2 1005.0,290.0C1007.7,290.8 1012.3,293.1 1015.0,293.8C1017.7,294.4 1023.0,293.8 1025.0,295.0C1027.0,296.2 1028.7,299.8 1030.0,302.5C1031.3,305.2 1033.3,312.2 1035.0,315.0C1036.7,317.8 1040.5,322.0 1042.5,323.8C1044.5,325.5 1047.7,327.1 1050.0,328.0C1052.3,328.9 1057.7,330.1 1060.0,330.5C1062.3,330.9 1065.2,331.5 1067.5,331.2C1069.8,331.0 1074.7,329.2 1077.5,328.8C1080.3,328.3 1087.2,328.1 1088.8,328.0" fill="none" stroke="#8e86de" stroke-width="1.4" stroke-linejoin="round"/>
<path d="M29.5,228.8C31.2,229.2 39.4,231.5 42.5,232.5C45.6,233.5 49.8,234.6 52.5,236.2C55.2,237.9 59.5,242.7 62.5,245.0C65.5,247.3 71.7,251.9 75.0,253.8C78.3,255.6 84.5,257.9 87.5,258.8C90.5,259.6 94.5,260.2 97.5,260.5C100.5,260.8 107.0,261.1 110.0,261.2C113.0,261.4 117.0,261.8 120.0,262.0C123.0,262.2 129.2,262.3 132.5,262.5C135.8,262.7 141.3,262.8 145.0,263.8C148.7,264.8 156.3,268.7 160.0,270.0C163.7,271.3 169.2,273.8 172.5,273.8C175.8,273.8 181.3,271.3 185.0,270.0C188.7,268.7 196.7,264.8 200.0,263.8C203.3,262.8 207.3,262.5 210.0,262.5C212.7,262.5 216.3,263.4 220.0,263.8C223.7,264.1 233.5,265.7 237.5,265.5C241.5,265.3 246.3,263.3 250.0,262.5C253.7,261.7 261.0,260.7 265.0,259.5C269.0,258.3 277.0,254.8 280.0,253.8C283.0,252.7 284.8,251.6 287.5,251.2C290.2,250.9 296.7,251.2 300.0,251.2C303.3,251.3 309.2,251.6 312.5,252.0C315.8,252.4 321.7,254.8 325.0,254.5C328.3,254.2 334.2,251.2 337.5,250.0C340.8,248.8 346.7,246.3 350.0,245.5C353.3,244.7 359.2,243.7 362.5,243.8C365.8,243.8 371.7,245.4 375.0,246.2C378.3,247.1 384.2,249.4 387.5,250.0C390.8,250.6 396.7,250.7 400.0,250.5C403.3,250.3 409.2,249.3 412.5,248.8C415.8,248.2 421.7,247.8 425.0,246.2C428.3,244.8 434.2,240.2 437.5,237.5C440.8,234.8 446.7,229.4 450.0,226.2C453.3,223.1 459.2,216.9 462.5,213.8C465.8,210.6 471.7,206.0 475.0,202.5C478.3,199.0 484.5,191.3 487.5,187.5C490.5,183.7 494.8,176.6 497.5,173.8C500.2,170.9 505.5,167.6 507.5,166.2C509.5,164.9 510.2,164.9 512.5,163.8C514.8,162.6 521.7,159.0 525.0,157.5C528.3,156.0 534.2,154.0 537.5,152.5C540.8,151.0 546.7,147.9 550.0,146.2C553.3,144.6 559.2,141.6 562.5,140.0C565.8,138.4 572.7,135.3 575.0,134.5C577.3,133.7 578.3,134.2 580.0,133.8C581.7,133.3 586.2,131.6 587.5,131.2C588.8,130.9 588.3,131.1 590.0,131.2C591.7,131.4 597.0,131.3 600.0,132.5C603.0,133.7 609.2,138.1 612.5,140.0C615.8,141.9 621.0,145.8 625.0,147.0C629.0,148.2 637.5,148.2 642.5,148.8C647.5,149.3 658.2,150.4 662.5,151.2C666.8,152.1 671.7,153.8 675.0,155.0C678.3,156.2 684.2,158.5 687.5,160.0C690.8,161.5 696.7,164.8 700.0,166.2C703.3,167.8 709.2,169.9 712.5,171.2C715.8,172.6 721.3,174.6 725.0,176.2C728.7,177.9 736.0,181.6 740.0,183.8C744.0,185.9 751.0,190.2 755.0,192.5C759.0,194.8 766.0,199.2 770.0,201.2C774.0,203.2 781.0,206.3 785.0,207.5C789.0,208.7 796.0,209.2 800.0,210.0C804.0,210.8 811.0,212.9 815.0,213.8C819.0,214.6 826.0,215.8 830.0,216.2C834.0,216.7 841.7,217.2 845.0,216.8C848.3,216.3 852.9,214.1 855.0,213.0C857.1,211.9 858.5,210.0 860.8,208.5C863.0,207.0 868.9,203.7 871.8,201.5C874.6,199.3 879.6,194.2 882.5,191.8C885.4,189.3 890.4,185.0 893.2,183.0C896.1,181.0 901.4,177.9 904.2,176.5C907.1,175.1 912.1,173.2 915.0,172.5C917.9,171.8 922.9,171.3 925.8,171.0C928.6,170.7 933.9,170.6 936.8,170.5C939.6,170.4 945.3,169.9 947.5,170.0C949.7,170.1 950.8,170.0 953.0,171.0C955.2,172.0 960.9,175.6 963.8,177.5C966.6,179.4 972.3,183.8 974.5,185.2C976.7,186.7 977.9,187.0 980.0,188.5C982.1,190.0 987.3,194.4 990.0,196.2C992.7,198.1 997.3,201.0 1000.0,202.5C1002.7,204.0 1008.0,206.5 1010.0,207.5C1012.0,208.5 1013.0,208.3 1015.0,210.0C1017.0,211.7 1022.3,217.0 1025.0,220.0C1027.7,223.0 1032.3,229.5 1035.0,232.5C1037.7,235.5 1042.3,239.8 1045.0,242.5C1047.7,245.2 1052.3,250.2 1055.0,252.5C1057.7,254.8 1062.3,258.3 1065.0,260.0C1067.7,261.7 1072.7,264.6 1075.0,265.5C1077.3,266.4 1081.5,266.8 1082.5,267.0" fill="none" stroke="#eb6f60" stroke-width="1.5" stroke-linejoin="round"/>
<line x1="29" x2="1120.5" y1="163.6" y2="163.6" stroke="#b32b2b" stroke-width="1.25"/>
<line x1="29" x2="858" y1="342.2" y2="342.2" stroke="#c9393b" stroke-width="1.15"/>
<rect x="827.5" y="207" width="318.5" height="4.2" fill="#ee3338"/>
<rect x="858" y="339.8" width="288" height="4" fill="#ee3338"/>
<rect x="749" y="467.8" width="397" height="4.2" fill="#ee3338"/>
<line x1="30.20" x2="30.20" y1="215.0" y2="235.5" stroke="#63716a" stroke-width="1.5"/>
<rect x="28.45" y="220.4" width="3.5" height="3.0" fill="#14b072" stroke="#07613b" stroke-width="1"/>
<line x1="36.47" x2="36.47" y1="222.0" y2="237.0" stroke="#63716a" stroke-width="1.5"/>
<rect x="34.72" y="223.7" width="3.5" height="3.0" fill="#14b072" stroke="#07613b" stroke-width="1"/>
<line x1="42.73" x2="42.73" y1="201.2" y2="232.5" stroke="#75655f" stroke-width="1.5"/>
<rect x="40.98" y="212.4" width="3.5" height="14.2" fill="#f8625e" stroke="#8e211e" stroke-width="1"/>
<line x1="49.00" x2="49.00" y1="206.2" y2="230.0" stroke="#63716a" stroke-width="1.5"/>
<rect x="47.25" y="213.4" width="3.5" height="2.5" fill="#14b072" stroke="#07613b" stroke-width="1"/>
<line x1="55.26" x2="55.26" y1="215.8" y2="284.5" stroke="#63716a" stroke-width="1.5"/>
<rect x="53.51" y="216.2" width="3.5" height="66.0" fill="#14b072" stroke="#07613b" stroke-width="1"/>
<line x1="61.53" x2="61.53" y1="275.0" y2="318.0" stroke="#63716a" stroke-width="1.5"/>
<rect x="59.78" y="282.4" width="3.5" height="18.4" fill="#14b072" stroke="#07613b" stroke-width="1"/>
<line x1="67.80" x2="67.80" y1="295.8" y2="318.0" stroke="#75655f" stroke-width="1.5"/>
<rect x="66.05" y="299.1" width="3.5" height="5.0" fill="#f8625e" stroke="#8e211e" stroke-width="1"/>
<line x1="74.06" x2="74.06" y1="292.5" y2="316.2" stroke="#63716a" stroke-width="1.5"/>
<rect x="71.96" y="298.8" width="4.2" height="1.2" fill="#2e3a34"/>
<line x1="80.33" x2="80.33" y1="297.0" y2="350.0" stroke="#63716a" stroke-width="1.5"/>
<rect x="78.58" y="300.4" width="3.5" height="45.0" fill="#14b072" stroke="#07613b" stroke-width="1"/>
<line x1="86.59" x2="86.59" y1="307.5" y2="348.0" stroke="#75655f" stroke-width="1.5"/>
<rect x="84.84" y="322.9" width="3.5" height="22.4" fill="#f8625e" stroke="#8e211e" stroke-width="1"/>
<line x1="92.86" x2="92.86" y1="270.5" y2="334.5" stroke="#75655f" stroke-width="1.5"/>
<rect x="91.11" y="277.1" width="3.5" height="45.0" fill="#f8625e" stroke="#8e211e" stroke-width="1"/>
<line x1="99.13" x2="99.13" y1="247.0" y2="285.5" stroke="#75655f" stroke-width="1.5"/>
<rect x="97.38" y="266.1" width="3.5" height="10.9" fill="#f8625e" stroke="#8e211e" stroke-width="1"/>
<line x1="105.39" x2="105.39" y1="261.2" y2="270.0" stroke="#75655f" stroke-width="1.5"/>
<rect x="103.64" y="264.6" width="3.5" height="1.9" fill="#f8625e" stroke="#8e211e" stroke-width="1"/>
<line x1="111.66" x2="111.66" y1="260.5" y2="276.8" stroke="#75655f" stroke-width="1.5"/>
<rect x="109.91" y="262.9" width="3.5" height="2.5" fill="#f8625e" stroke="#8e211e" stroke-width="1"/>
<line x1="117.92" x2="117.92" y1="243.8" y2="273.8" stroke="#75655f" stroke-width="1.5"/>
<rect x="116.17" y="252.9" width="3.5" height="9.2" fill="#f8625e" stroke="#8e211e" stroke-width="1"/>
<line x1="124.19" x2="124.19" y1="225.0" y2="255.0" stroke="#75655f" stroke-width="1.5"/>
<rect x="122.44" y="244.2" width="3.5" height="8.0" fill="#f8625e" stroke="#8e211e" stroke-width="1"/>
<line x1="130.46" x2="130.46" y1="233.8" y2="273.8" stroke="#75655f" stroke-width="1.5"/>
<rect x="128.71" y="240.4" width="3.5" height="3.5" fill="#f8625e" stroke="#8e211e" stroke-width="1"/>
<line x1="136.72" x2="136.72" y1="239.2" y2="257.5" stroke="#63716a" stroke-width="1.5"/>
<rect x="134.97" y="240.4" width="3.5" height="12.2" fill="#14b072" stroke="#07613b" stroke-width="1"/>
<line x1="142.99" x2="142.99" y1="252.5" y2="262.5" stroke="#63716a" stroke-width="1.5"/>
<rect x="140.89" y="252.4" width="4.2" height="1.0" fill="#2e3a34"/>
<line x1="149.25" x2="149.25" y1="252.5" y2="273.8" stroke="#63716a" stroke-width="1.5"/>
<rect x="147.50" y="253.7" width="3.5" height="15.2" fill="#14b072" stroke="#07613b" stroke-width="1"/>
<line x1="155.52" x2="155.52" y1="252.5" y2="290.0" stroke="#63716a" stroke-width="1.5"/>
<rect x="153.42" y="268.6" width="4.2" height="1.0" fill="#2e3a34"/>
<line x1="161.79" x2="161.79" y1="239.2" y2="278.8" stroke="#63716a" stroke-width="1.5"/>
<rect x="160.04" y="269.6" width="3.5" height="8.2" fill="#14b072" stroke="#07613b" stroke-width="1"/>
<line x1="168.05" x2="168.05" y1="249.5" y2="282.0" stroke="#75655f" stroke-width="1.5"/>
<rect x="166.30" y="259.6" width="3.5" height="17.9" fill="#f8625e" stroke="#8e211e" stroke-width="1"/>
<line x1="174.32" x2="174.32" y1="228.8" y2="268.8" stroke="#75655f" stroke-width="1.5"/>
<rect x="172.57" y="232.4" width="3.5" height="27.2" fill="#f8625e" stroke="#8e211e" stroke-width="1"/>
<line x1="180.58" x2="180.58" y1="231.8" y2="253.8" stroke="#63716a" stroke-width="1.5"/>
<rect x="178.83" y="232.9" width="3.5" height="19.9" fill="#14b072" stroke="#07613b" stroke-width="1"/>
<line x1="186.85" x2="186.85" y1="241.8" y2="262.0" stroke="#63716a" stroke-width="1.5"/>
<rect x="185.10" y="253.7" width="3.5" height="4.0" fill="#14b072" stroke="#07613b" stroke-width="1"/>
<line x1="193.12" x2="193.12" y1="240.5" y2="260.5" stroke="#75655f" stroke-width="1.5"/>
<rect x="191.37" y="245.9" width="3.5" height="11.2" fill="#f8625e" stroke="#8e211e" stroke-width="1"/>
<line x1="199.38" x2="199.38" y1="241.8" y2="265.0" stroke="#63716a" stroke-width="1.5"/>
<rect x="197.63" y="246.7" width="3.5" height="12.4" fill="#14b072" stroke="#07613b" stroke-width="1"/>
<line x1="205.65" x2="205.65" y1="249.2" y2="310.0" stroke="#63716a" stroke-width="1.5"/>
<rect x="203.90" y="259.6" width="3.5" height="35.5" fill="#14b072" stroke="#07613b" stroke-width="1"/>
<line x1="211.91" x2="211.91" y1="291.2" y2="316.2" stroke="#75655f" stroke-width="1.5"/>
<rect x="209.81" y="295.0" width="4.2" height="1.5" fill="#8e211e"/>
<line x1="218.18" x2="218.18" y1="293.0" y2="312.5" stroke="#75655f" stroke-width="1.5"/>
<rect x="216.43" y="294.1" width="3.5" height="3.0" fill="#f8625e" stroke="#8e211e" stroke-width="1"/>
<line x1="224.45" x2="224.45" y1="281.8" y2="295.0" stroke="#75655f" stroke-width="1.5"/>
<rect x="222.70" y="288.6" width="3.5" height="6.0" fill="#f8625e" stroke="#8e211e" stroke-width="1"/>
<line x1="230.71" x2="230.71" y1="285.0" y2="309.5" stroke="#63716a" stroke-width="1.5"/>
<rect x="228.96" y="288.4" width="3.5" height="8.0" fill="#14b072" stroke="#07613b" stroke-width="1"/>
<line x1="236.98" x2="236.98" y1="274.5" y2="296.8" stroke="#75655f" stroke-width="1.5"/>
<rect x="235.23" y="277.4" width="3.5" height="18.9" fill="#f8625e" stroke="#8e211e" stroke-width="1"/>
<line x1="243.24" x2="243.24" y1="233.2" y2="283.0" stroke="#75655f" stroke-width="1.5"/>
<rect x="241.49" y="238.4" width="3.5" height="38.7" fill="#f8625e" stroke="#8e211e" stroke-width="1"/>
<line x1="249.51" x2="249.51" y1="199.5" y2="240.0" stroke="#75655f" stroke-width="1.5"/>
<rect x="247.76" y="218.4" width="3.5" height="19.9" fill="#f8625e" stroke="#8e211e" stroke-width="1"/>
<line x1="255.78" x2="255.78" y1="208.0" y2="227.0" stroke="#63716a" stroke-width="1.5"/>
<rect x="254.03" y="217.2" width="3.5" height="5.0" fill="#14b072" stroke="#07613b" stroke-width="1"/>
<line x1="262.04" x2="262.04" y1="203.8" y2="230.8" stroke="#75655f" stroke-width="1.5"/>
<rect x="260.29" y="218.7" width="3.5" height="3.5" fill="#f8625e" stroke="#8e211e" stroke-width="1"/>
<line x1="268.31" x2="268.31" y1="205.0" y2="223.8" stroke="#75655f" stroke-width="1.5"/>
<rect x="266.56" y="206.7" width="3.5" height="11.2" fill="#f8625e" stroke="#8e211e" stroke-width="1"/>
<line x1="274.57" x2="274.57" y1="195.5" y2="215.0" stroke="#63716a" stroke-width="1.5"/>
<rect x="272.82" y="207.9" width="3.5" height="1.7" fill="#14b072" stroke="#07613b" stroke-width="1"/>
<line x1="280.84" x2="280.84" y1="198.0" y2="243.8" stroke="#63716a" stroke-width="1.5"/>
<rect x="279.09" y="209.9" width="3.5" height="9.2" fill="#14b072" stroke="#07613b" stroke-width="1"/>
<line x1="287.11" x2="287.11" y1="217.0" y2="258.8" stroke="#63716a" stroke-width="1.5"/>
<rect x="285.36" y="219.7" width="3.5" height="23.7" fill="#14b072" stroke="#07613b" stroke-width="1"/>
<line x1="293.37" x2="293.37" y1="242.5" y2="260.0" stroke="#63716a" stroke-width="1.5"/>
<rect x="291.62" y="244.2" width="3.5" height="10.4" fill="#14b072" stroke="#07613b" stroke-width="1"/>
<line x1="299.64" x2="299.64" y1="228.8" y2="255.0" stroke="#75655f" stroke-width="1.5"/>
<rect x="297.89" y="242.9" width="3.5" height="2.2" fill="#f8625e" stroke="#8e211e" stroke-width="1"/>
<line x1="305.90" x2="305.90" y1="236.2" y2="246.2" stroke="#63716a" stroke-width="1.5"/>
<rect x="304.15" y="242.4" width="3.5" height="0.9" fill="#14b072" stroke="#07613b" stroke-width="1"/>
<line x1="312.17" x2="312.17" y1="239.5" y2="281.2" stroke="#63716a" stroke-width="1.5"/>
<rect x="310.42" y="244.2" width="3.5" height="16.2" fill="#14b072" stroke="#07613b" stroke-width="1"/>
<line x1="318.44" x2="318.44" y1="239.5" y2="286.2" stroke="#63716a" stroke-width="1.5"/>
<rect x="316.69" y="259.6" width="3.5" height="13.7" fill="#14b072" stroke="#07613b" stroke-width="1"/>
<line x1="324.70" x2="324.70" y1="266.2" y2="282.0" stroke="#63716a" stroke-width="1.5"/>
<rect x="322.60" y="273.2" width="4.2" height="1.2" fill="#2e3a34"/>
<line x1="330.97" x2="330.97" y1="267.5" y2="276.2" stroke="#75655f" stroke-width="1.5"/>
<rect x="329.22" y="271.1" width="3.5" height="1.4" fill="#f8625e" stroke="#8e211e" stroke-width="1"/>
<line x1="337.23" x2="337.23" y1="260.0" y2="282.0" stroke="#75655f" stroke-width="1.5"/>
<rect x="335.48" y="262.4" width="3.5" height="8.4" fill="#f8625e" stroke="#8e211e" stroke-width="1"/>
<line x1="343.50" x2="343.50" y1="248.0" y2="268.8" stroke="#75655f" stroke-width="1.5"/>
<rect x="341.75" y="254.2" width="3.5" height="8.0" fill="#f8625e" stroke="#8e211e" stroke-width="1"/>
<line x1="349.77" x2="349.77" y1="243.2" y2="258.8" stroke="#75655f" stroke-width="1.5"/>
<rect x="348.02" y="252.4" width="3.5" height="1.4" fill="#f8625e" stroke="#8e211e" stroke-width="1"/>
<line x1="356.03" x2="356.03" y1="232.5" y2="266.2" stroke="#75655f" stroke-width="1.5"/>
<rect x="354.28" y="244.9" width="3.5" height="7.2" fill="#f8625e" stroke="#8e211e" stroke-width="1"/>
<line x1="362.30" x2="362.30" y1="243.8" y2="268.8" stroke="#63716a" stroke-width="1.5"/>
<rect x="360.55" y="245.4" width="3.5" height="14.2" fill="#14b072" stroke="#07613b" stroke-width="1"/>
<line x1="368.56" x2="368.56" y1="247.5" y2="265.0" stroke="#63716a" stroke-width="1.5"/>
<rect x="366.46" y="256.2" width="4.2" height="1.2" fill="#2e3a34"/>
<line x1="374.83" x2="374.83" y1="245.8" y2="262.5" stroke="#63716a" stroke-width="1.5"/>
<rect x="372.73" y="255.8" width="4.2" height="1.2" fill="#2e3a34"/>
<line x1="381.10" x2="381.10" y1="247.5" y2="261.8" stroke="#63716a" stroke-width="1.5"/>
<rect x="379.35" y="256.1" width="3.5" height="3.5" fill="#14b072" stroke="#07613b" stroke-width="1"/>
<line x1="387.36" x2="387.36" y1="237.5" y2="265.5" stroke="#75655f" stroke-width="1.5"/>
<rect x="385.61" y="240.4" width="3.5" height="19.7" fill="#f8625e" stroke="#8e211e" stroke-width="1"/>
<line x1="393.63" x2="393.63" y1="211.2" y2="256.2" stroke="#75655f" stroke-width="1.5"/>
<rect x="391.88" y="231.7" width="3.5" height="8.4" fill="#f8625e" stroke="#8e211e" stroke-width="1"/>
<line x1="399.89" x2="399.89" y1="211.2" y2="240.0" stroke="#75655f" stroke-width="1.5"/>
<rect x="398.14" y="212.4" width="3.5" height="17.9" fill="#f8625e" stroke="#8e211e" stroke-width="1"/>
<line x1="406.16" x2="406.16" y1="206.2" y2="221.2" stroke="#75655f" stroke-width="1.5"/>
<rect x="404.41" y="209.9" width="3.5" height="2.2" fill="#f8625e" stroke="#8e211e" stroke-width="1"/>
<line x1="412.43" x2="412.43" y1="206.8" y2="228.8" stroke="#63716a" stroke-width="1.5"/>
<rect x="410.68" y="211.2" width="3.5" height="14.2" fill="#14b072" stroke="#07613b" stroke-width="1"/>
<line x1="418.69" x2="418.69" y1="208.0" y2="231.2" stroke="#75655f" stroke-width="1.5"/>
<rect x="416.94" y="220.4" width="3.5" height="4.7" fill="#f8625e" stroke="#8e211e" stroke-width="1"/>
<line x1="424.96" x2="424.96" y1="208.0" y2="225.5" stroke="#75655f" stroke-width="1.5"/>
<rect x="423.21" y="217.9" width="3.5" height="2.2" fill="#f8625e" stroke="#8e211e" stroke-width="1"/>
<line x1="431.22" x2="431.22" y1="161.8" y2="230.0" stroke="#75655f" stroke-width="1.5"/>
<rect x="429.47" y="166.7" width="3.5" height="50.5" fill="#f8625e" stroke="#8e211e" stroke-width="1"/>
<line x1="437.49" x2="437.49" y1="158.0" y2="178.8" stroke="#63716a" stroke-width="1.5"/>
<rect x="435.39" y="165.8" width="4.2" height="1.2" fill="#07613b"/>
<line x1="443.76" x2="443.76" y1="165.0" y2="177.5" stroke="#63716a" stroke-width="1.5"/>
<rect x="441.66" y="167.4" width="4.2" height="1.0" fill="#2e3a34"/>
<line x1="450.02" x2="450.02" y1="164.5" y2="179.5" stroke="#63716a" stroke-width="1.5"/>
<rect x="448.27" y="168.4" width="3.5" height="1.7" fill="#14b072" stroke="#07613b" stroke-width="1"/>
<line x1="456.29" x2="456.29" y1="151.2" y2="175.0" stroke="#75655f" stroke-width="1.5"/>
<rect x="454.54" y="154.7" width="3.5" height="15.7" fill="#f8625e" stroke="#8e211e" stroke-width="1"/>
<line x1="462.55" x2="462.55" y1="153.8" y2="175.0" stroke="#63716a" stroke-width="1.5"/>
<rect x="460.80" y="154.7" width="3.5" height="14.9" fill="#14b072" stroke="#07613b" stroke-width="1"/>
<line x1="468.82" x2="468.82" y1="120.0" y2="171.2" stroke="#75655f" stroke-width="1.5"/>
<rect x="467.07" y="121.2" width="3.5" height="48.5" fill="#f8625e" stroke="#8e211e" stroke-width="1"/>
<line x1="475.09" x2="475.09" y1="114.2" y2="146.2" stroke="#63716a" stroke-width="1.5"/>
<rect x="473.34" y="121.7" width="3.5" height="12.9" fill="#14b072" stroke="#07613b" stroke-width="1"/>
<line x1="481.35" x2="481.35" y1="132.5" y2="142.0" stroke="#63716a" stroke-width="1.5"/>
<rect x="479.60" y="135.4" width="3.5" height="3.0" fill="#14b072" stroke="#07613b" stroke-width="1"/>
<line x1="487.62" x2="487.62" y1="77.5" y2="105.5" stroke="#75655f" stroke-width="1.5"/>
<rect x="485.87" y="85.9" width="3.5" height="8.2" fill="#f8625e" stroke="#8e211e" stroke-width="1"/>
<line x1="493.88" x2="493.88" y1="75.0" y2="90.0" stroke="#75655f" stroke-width="1.5"/>
<rect x="492.13" y="82.9" width="3.5" height="3.0" fill="#f8625e" stroke="#8e211e" stroke-width="1"/>
<line x1="500.15" x2="500.15" y1="72.5" y2="92.0" stroke="#75655f" stroke-width="1.5"/>
<rect x="498.40" y="77.9" width="3.5" height="4.7" fill="#f8625e" stroke="#8e211e" stroke-width="1"/>
<line x1="506.42" x2="506.42" y1="75.0" y2="183.0" stroke="#63716a" stroke-width="1.5"/>
<rect x="504.67" y="76.7" width="3.5" height="86.2" fill="#14b072" stroke="#07613b" stroke-width="1"/>
<line x1="512.68" x2="512.68" y1="159.5" y2="182.0" stroke="#63716a" stroke-width="1.5"/>
<rect x="510.93" y="162.9" width="3.5" height="8.4" fill="#14b072" stroke="#07613b" stroke-width="1"/>
<line x1="518.95" x2="518.95" y1="160.0" y2="175.5" stroke="#75655f" stroke-width="1.5"/>
<rect x="517.20" y="162.9" width="3.5" height="8.4" fill="#f8625e" stroke="#8e211e" stroke-width="1"/>
<line x1="525.21" x2="525.21" y1="146.2" y2="164.2" stroke="#75655f" stroke-width="1.5"/>
<rect x="523.46" y="155.9" width="3.5" height="7.0" fill="#f8625e" stroke="#8e211e" stroke-width="1"/>
<line x1="531.48" x2="531.48" y1="150.0" y2="186.2" stroke="#63716a" stroke-width="1.5"/>
<rect x="529.73" y="154.9" width="3.5" height="17.2" fill="#14b072" stroke="#07613b" stroke-width="1"/>
<line x1="537.75" x2="537.75" y1="153.8" y2="173.8" stroke="#75655f" stroke-width="1.5"/>
<rect x="536.00" y="159.7" width="3.5" height="11.7" fill="#f8625e" stroke="#8e211e" stroke-width="1"/>
<line x1="544.01" x2="544.01" y1="130.0" y2="172.5" stroke="#75655f" stroke-width="1.5"/>
<rect x="542.26" y="145.4" width="3.5" height="13.4" fill="#f8625e" stroke="#8e211e" stroke-width="1"/>
<line x1="550.28" x2="550.28" y1="125.0" y2="147.5" stroke="#75655f" stroke-width="1.5"/>
<rect x="548.53" y="127.9" width="3.5" height="16.2" fill="#f8625e" stroke="#8e211e" stroke-width="1"/>
<line x1="556.54" x2="556.54" y1="125.8" y2="137.0" stroke="#63716a" stroke-width="1.5"/>
<rect x="554.44" y="128.2" width="4.2" height="1.0" fill="#2e3a34"/>
<line x1="562.81" x2="562.81" y1="115.0" y2="133.8" stroke="#75655f" stroke-width="1.5"/>
<rect x="561.06" y="120.4" width="3.5" height="8.4" fill="#f8625e" stroke="#8e211e" stroke-width="1"/>
<line x1="569.08" x2="569.08" y1="110.0" y2="128.8" stroke="#63716a" stroke-width="1.5"/>
<rect x="566.98" y="119.5" width="4.2" height="1.0" fill="#2e3a34"/>
<line x1="575.34" x2="575.34" y1="111.2" y2="126.2" stroke="#75655f" stroke-width="1.5"/>
<rect x="573.59" y="114.7" width="3.5" height="4.5" fill="#f8625e" stroke="#8e211e" stroke-width="1"/>
<line x1="581.61" x2="581.61" y1="107.5" y2="138.8" stroke="#63716a" stroke-width="1.5"/>
<rect x="579.86" y="114.7" width="3.5" height="10.7" fill="#14b072" stroke="#07613b" stroke-width="1"/>
<line x1="587.87" x2="587.87" y1="105.8" y2="128.8" stroke="#75655f" stroke-width="1.5"/>
<rect x="586.12" y="119.2" width="3.5" height="6.2" fill="#f8625e" stroke="#8e211e" stroke-width="1"/>
<line x1="594.14" x2="594.14" y1="116.2" y2="130.0" stroke="#63716a" stroke-width="1.5"/>
<rect x="592.39" y="119.7" width="3.5" height="5.7" fill="#14b072" stroke="#07613b" stroke-width="1"/>
<line x1="600.41" x2="600.41" y1="125.0" y2="152.5" stroke="#63716a" stroke-width="1.5"/>
<rect x="598.66" y="125.4" width="3.5" height="17.9" fill="#14b072" stroke="#07613b" stroke-width="1"/>
<line x1="606.67" x2="606.67" y1="136.2" y2="161.2" stroke="#63716a" stroke-width="1.5"/>
<rect x="604.92" y="144.2" width="3.5" height="15.4" fill="#14b072" stroke="#07613b" stroke-width="1"/>
<line x1="612.94" x2="612.94" y1="150.0" y2="172.5" stroke="#75655f" stroke-width="1.5"/>
<rect x="611.19" y="159.2" width="3.5" height="0.9" fill="#f8625e" stroke="#8e211e" stroke-width="1"/>
<line x1="619.20" x2="619.20" y1="142.5" y2="212.5" stroke="#63716a" stroke-width="1.5"/>
<rect x="617.45" y="158.7" width="3.5" height="34.2" fill="#14b072" stroke="#07613b" stroke-width="1"/>
<line x1="625.47" x2="625.47" y1="183.8" y2="201.8" stroke="#75655f" stroke-width="1.5"/>
<rect x="623.72" y="190.4" width="3.5" height="2.5" fill="#f8625e" stroke="#8e211e" stroke-width="1"/>
<line x1="631.74" x2="631.74" y1="181.8" y2="192.5" stroke="#75655f" stroke-width="1.5"/>
<rect x="629.99" y="188.7" width="3.5" height="1.7" fill="#f8625e" stroke="#8e211e" stroke-width="1"/>
<line x1="638.00" x2="638.00" y1="176.2" y2="192.5" stroke="#75655f" stroke-width="1.5"/>
<rect x="636.25" y="184.9" width="3.5" height="3.0" fill="#f8625e" stroke="#8e211e" stroke-width="1"/>
<line x1="644.27" x2="644.27" y1="155.0" y2="188.8" stroke="#75655f" stroke-width="1.5"/>
<rect x="642.52" y="158.7" width="3.5" height="25.4" fill="#f8625e" stroke="#8e211e" stroke-width="1"/>
<line x1="650.53" x2="650.53" y1="147.5" y2="176.2" stroke="#63716a" stroke-width="1.5"/>
<rect x="648.78" y="158.7" width="3.5" height="16.7" fill="#14b072" stroke="#07613b" stroke-width="1"/>
<line x1="656.80" x2="656.80" y1="151.2" y2="182.0" stroke="#75655f" stroke-width="1.5"/>
<rect x="655.05" y="172.9" width="3.5" height="2.5" fill="#f8625e" stroke="#8e211e" stroke-width="1"/>
<line x1="663.07" x2="663.07" y1="157.0" y2="173.0" stroke="#75655f" stroke-width="1.5"/>
<rect x="661.32" y="161.7" width="3.5" height="10.4" fill="#f8625e" stroke="#8e211e" stroke-width="1"/>
<line x1="669.33" x2="669.33" y1="158.0" y2="163.0" stroke="#63716a" stroke-width="1.5"/>
<rect x="667.23" y="161.1" width="4.2" height="1.0" fill="#2e3a34"/>
<line x1="675.60" x2="675.60" y1="172.0" y2="187.5" stroke="#63716a" stroke-width="1.5"/>
<rect x="673.85" y="174.2" width="3.5" height="6.2" fill="#14b072" stroke="#07613b" stroke-width="1"/>
<line x1="681.86" x2="681.86" y1="178.8" y2="193.8" stroke="#63716a" stroke-width="1.5"/>
<rect x="680.11" y="181.2" width="3.5" height="0.9" fill="#14b072" stroke="#07613b" stroke-width="1"/>
<line x1="688.13" x2="688.13" y1="174.5" y2="185.0" stroke="#75655f" stroke-width="1.5"/>
<rect x="686.38" y="181.2" width="3.5" height="1.4" fill="#f8625e" stroke="#8e211e" stroke-width="1"/>
<line x1="694.40" x2="694.40" y1="167.5" y2="200.0" stroke="#75655f" stroke-width="1.5"/>
<rect x="692.65" y="177.9" width="3.5" height="3.7" fill="#f8625e" stroke="#8e211e" stroke-width="1"/>
<line x1="700.66" x2="700.66" y1="175.0" y2="183.2" stroke="#63716a" stroke-width="1.5"/>
<rect x="698.91" y="177.4" width="3.5" height="3.0" fill="#14b072" stroke="#07613b" stroke-width="1"/>
<line x1="706.93" x2="706.93" y1="180.0" y2="190.0" stroke="#63716a" stroke-width="1.5"/>
<rect x="705.18" y="180.9" width="3.5" height="5.0" fill="#14b072" stroke="#07613b" stroke-width="1"/>
<line x1="713.19" x2="713.19" y1="160.0" y2="186.2" stroke="#75655f" stroke-width="1.5"/>
<rect x="711.44" y="162.9" width="3.5" height="22.9" fill="#f8625e" stroke="#8e211e" stroke-width="1"/>
<line x1="719.46" x2="719.46" y1="160.5" y2="177.5" stroke="#63716a" stroke-width="1.5"/>
<rect x="717.71" y="162.2" width="3.5" height="14.4" fill="#14b072" stroke="#07613b" stroke-width="1"/>
<line x1="725.73" x2="725.73" y1="175.0" y2="203.8" stroke="#63716a" stroke-width="1.5"/>
<rect x="723.98" y="176.7" width="3.5" height="10.9" fill="#14b072" stroke="#07613b" stroke-width="1"/>
<line x1="731.99" x2="731.99" y1="180.0" y2="237.5" stroke="#63716a" stroke-width="1.5"/>
<rect x="730.24" y="188.4" width="3.5" height="35.0" fill="#14b072" stroke="#07613b" stroke-width="1"/>
<line x1="738.26" x2="738.26" y1="221.2" y2="237.0" stroke="#63716a" stroke-width="1.5"/>
<rect x="736.51" y="223.4" width="3.5" height="7.0" fill="#14b072" stroke="#07613b" stroke-width="1"/>
<line x1="744.52" x2="744.52" y1="225.5" y2="237.0" stroke="#75655f" stroke-width="1.5"/>
<rect x="742.77" y="227.4" width="3.5" height="2.7" fill="#f8625e" stroke="#8e211e" stroke-width="1"/>
<line x1="750.79" x2="750.79" y1="217.5" y2="242.5" stroke="#63716a" stroke-width="1.5"/>
<rect x="749.04" y="227.4" width="3.5" height="11.7" fill="#14b072" stroke="#07613b" stroke-width="1"/>
<line x1="757.06" x2="757.06" y1="234.5" y2="248.0" stroke="#63716a" stroke-width="1.5"/>
<rect x="754.96" y="239.5" width="4.2" height="1.0" fill="#2e3a34"/>
<line x1="763.32" x2="763.32" y1="234.5" y2="269.5" stroke="#63716a" stroke-width="1.5"/>
<rect x="761.57" y="240.4" width="3.5" height="21.2" fill="#14b072" stroke="#07613b" stroke-width="1"/>
<line x1="769.59" x2="769.59" y1="250.5" y2="282.5" stroke="#63716a" stroke-width="1.5"/>
<rect x="767.49" y="261.1" width="4.2" height="1.0" fill="#2e3a34"/>
<line x1="775.85" x2="775.85" y1="219.5" y2="262.0" stroke="#75655f" stroke-width="1.5"/>
<rect x="774.10" y="225.9" width="3.5" height="35.0" fill="#f8625e" stroke="#8e211e" stroke-width="1"/>
<line x1="782.12" x2="782.12" y1="221.2" y2="245.8" stroke="#63716a" stroke-width="1.5"/>
<rect x="780.37" y="225.4" width="3.5" height="7.2" fill="#14b072" stroke="#07613b" stroke-width="1"/>
<line x1="788.39" x2="788.39" y1="220.0" y2="237.0" stroke="#75655f" stroke-width="1.5"/>
<rect x="786.64" y="221.7" width="3.5" height="10.4" fill="#f8625e" stroke="#8e211e" stroke-width="1"/>
<line x1="794.65" x2="794.65" y1="201.2" y2="222.5" stroke="#75655f" stroke-width="1.5"/>
<rect x="792.90" y="209.2" width="3.5" height="12.2" fill="#f8625e" stroke="#8e211e" stroke-width="1"/>
<line x1="800.92" x2="800.92" y1="187.5" y2="211.2" stroke="#75655f" stroke-width="1.5"/>
<rect x="799.17" y="203.4" width="3.5" height="6.2" fill="#f8625e" stroke="#8e211e" stroke-width="1"/>
<line x1="807.18" x2="807.18" y1="183.8" y2="206.2" stroke="#75655f" stroke-width="1.5"/>
<rect x="805.43" y="195.4" width="3.5" height="6.7" fill="#f8625e" stroke="#8e211e" stroke-width="1"/>
<line x1="813.45" x2="813.45" y1="193.0" y2="230.5" stroke="#63716a" stroke-width="1.5"/>
<rect x="811.70" y="195.4" width="3.5" height="11.7" fill="#14b072" stroke="#07613b" stroke-width="1"/>
<line x1="819.72" x2="819.72" y1="199.5" y2="211.2" stroke="#75655f" stroke-width="1.5"/>
<rect x="817.97" y="200.9" width="3.5" height="6.2" fill="#f8625e" stroke="#8e211e" stroke-width="1"/>
<line x1="825.98" x2="825.98" y1="198.8" y2="226.2" stroke="#63716a" stroke-width="1.5"/>
<rect x="824.23" y="200.9" width="3.5" height="5.0" fill="#14b072" stroke="#07613b" stroke-width="1"/>
<line x1="832.25" x2="832.25" y1="198.0" y2="213.8" stroke="#63716a" stroke-width="1.5"/>
<rect x="830.15" y="204.9" width="4.2" height="1.0" fill="#2e3a34"/>
<line x1="838.51" x2="838.51" y1="176.2" y2="206.2" stroke="#75655f" stroke-width="1.5"/>
<rect x="836.76" y="177.9" width="3.5" height="27.4" fill="#f8625e" stroke="#8e211e" stroke-width="1"/>
<line x1="844.78" x2="844.78" y1="160.0" y2="187.5" stroke="#75655f" stroke-width="1.5"/>
<rect x="843.03" y="161.7" width="3.5" height="15.4" fill="#f8625e" stroke="#8e211e" stroke-width="1"/>
<line x1="851.05" x2="851.05" y1="154.5" y2="183.8" stroke="#63716a" stroke-width="1.5"/>
<rect x="849.30" y="161.7" width="3.5" height="9.2" fill="#14b072" stroke="#07613b" stroke-width="1"/>
<line x1="857.31" x2="857.31" y1="167.5" y2="180.0" stroke="#63716a" stroke-width="1.5"/>
<rect x="855.56" y="172.9" width="3.5" height="6.2" fill="#14b072" stroke="#07613b" stroke-width="1"/>
<line x1="863.58" x2="863.58" y1="145.0" y2="169.5" stroke="#63716a" stroke-width="1.5"/>
<rect x="861.48" y="147.0" width="4.2" height="1.8" fill="#2e3a34"/>
<line x1="869.84" x2="869.84" y1="135.0" y2="153.8" stroke="#75655f" stroke-width="1.5"/>
<rect x="868.09" y="147.4" width="3.5" height="3.0" fill="#f8625e" stroke="#8e211e" stroke-width="1"/>
<line x1="876.11" x2="876.11" y1="136.2" y2="177.5" stroke="#63716a" stroke-width="1.5"/>
<rect x="874.36" y="146.7" width="3.5" height="17.4" fill="#14b072" stroke="#07613b" stroke-width="1"/>
<line x1="882.38" x2="882.38" y1="142.5" y2="181.2" stroke="#75655f" stroke-width="1.5"/>
<rect x="880.63" y="146.7" width="3.5" height="17.4" fill="#f8625e" stroke="#8e211e" stroke-width="1"/>
<line x1="888.64" x2="888.64" y1="143.0" y2="160.5" stroke="#63716a" stroke-width="1.5"/>
<rect x="886.89" y="145.9" width="3.5" height="1.2" fill="#14b072" stroke="#07613b" stroke-width="1"/>
<line x1="894.91" x2="894.91" y1="137.5" y2="155.0" stroke="#75655f" stroke-width="1.5"/>
<rect x="893.16" y="142.4" width="3.5" height="4.7" fill="#f8625e" stroke="#8e211e" stroke-width="1"/>
<line x1="901.17" x2="901.17" y1="139.5" y2="156.2" stroke="#63716a" stroke-width="1.5"/>
<rect x="899.42" y="142.2" width="3.5" height="6.7" fill="#14b072" stroke="#07613b" stroke-width="1"/>
<line x1="907.44" x2="907.44" y1="146.2" y2="161.8" stroke="#63716a" stroke-width="1.5"/>
<rect x="905.69" y="148.4" width="3.5" height="11.9" fill="#14b072" stroke="#07613b" stroke-width="1"/>
<line x1="913.71" x2="913.71" y1="141.2" y2="160.5" stroke="#75655f" stroke-width="1.5"/>
<rect x="911.96" y="147.9" width="3.5" height="11.7" fill="#f8625e" stroke="#8e211e" stroke-width="1"/>
<line x1="919.97" x2="919.97" y1="132.5" y2="183.0" stroke="#63716a" stroke-width="1.5"/>
<rect x="918.22" y="147.9" width="3.5" height="29.7" fill="#14b072" stroke="#07613b" stroke-width="1"/>
<line x1="926.24" x2="926.24" y1="174.5" y2="200.0" stroke="#63716a" stroke-width="1.5"/>
<rect x="924.49" y="177.4" width="3.5" height="4.7" fill="#14b072" stroke="#07613b" stroke-width="1"/>
<line x1="932.50" x2="932.50" y1="170.5" y2="191.2" stroke="#63716a" stroke-width="1.5"/>
<rect x="930.75" y="181.7" width="3.5" height="5.0" fill="#14b072" stroke="#07613b" stroke-width="1"/>
<line x1="938.77" x2="938.77" y1="178.0" y2="202.5" stroke="#63716a" stroke-width="1.5"/>
<rect x="937.02" y="187.4" width="3.5" height="2.7" fill="#14b072" stroke="#07613b" stroke-width="1"/>
<line x1="945.04" x2="945.04" y1="186.2" y2="206.2" stroke="#63716a" stroke-width="1.5"/>
<rect x="943.29" y="190.4" width="3.5" height="14.2" fill="#14b072" stroke="#07613b" stroke-width="1"/>
<line x1="951.30" x2="951.30" y1="198.0" y2="225.0" stroke="#75655f" stroke-width="1.5"/>
<rect x="949.55" y="199.7" width="3.5" height="4.5" fill="#f8625e" stroke="#8e211e" stroke-width="1"/>
<line x1="957.57" x2="957.57" y1="188.8" y2="295.0" stroke="#63716a" stroke-width="1.5"/>
<rect x="955.82" y="199.7" width="3.5" height="65.5" fill="#14b072" stroke="#07613b" stroke-width="1"/>
<line x1="963.83" x2="963.83" y1="263.0" y2="280.5" stroke="#63716a" stroke-width="1.5"/>
<rect x="962.08" y="266.6" width="3.5" height="5.0" fill="#14b072" stroke="#07613b" stroke-width="1"/>
<line x1="970.10" x2="970.10" y1="261.2" y2="272.5" stroke="#75655f" stroke-width="1.5"/>
<rect x="968.35" y="263.4" width="3.5" height="8.2" fill="#f8625e" stroke="#8e211e" stroke-width="1"/>
<line x1="976.37" x2="976.37" y1="248.8" y2="270.5" stroke="#75655f" stroke-width="1.5"/>
<rect x="974.62" y="255.9" width="3.5" height="6.2" fill="#f8625e" stroke="#8e211e" stroke-width="1"/>
<line x1="982.63" x2="982.63" y1="249.5" y2="269.2" stroke="#63716a" stroke-width="1.5"/>
<rect x="980.53" y="255.5" width="4.2" height="1.5" fill="#07613b"/>
<line x1="988.90" x2="988.90" y1="220.0" y2="258.0" stroke="#75655f" stroke-width="1.5"/>
<rect x="987.15" y="241.7" width="3.5" height="15.4" fill="#f8625e" stroke="#8e211e" stroke-width="1"/>
<line x1="995.16" x2="995.16" y1="211.2" y2="262.5" stroke="#75655f" stroke-width="1.5"/>
<rect x="993.41" y="224.9" width="3.5" height="15.9" fill="#f8625e" stroke="#8e211e" stroke-width="1"/>
<line x1="1001.43" x2="1001.43" y1="201.2" y2="225.0" stroke="#75655f" stroke-width="1.5"/>
<rect x="999.68" y="218.7" width="3.5" height="5.5" fill="#f8625e" stroke="#8e211e" stroke-width="1"/>
<line x1="1007.70" x2="1007.70" y1="213.8" y2="228.0" stroke="#63716a" stroke-width="1.5"/>
<rect x="1005.95" y="217.4" width="3.5" height="9.7" fill="#14b072" stroke="#07613b" stroke-width="1"/>
<line x1="1013.96" x2="1013.96" y1="217.5" y2="243.0" stroke="#63716a" stroke-width="1.5"/>
<rect x="1012.21" y="227.9" width="3.5" height="10.4" fill="#14b072" stroke="#07613b" stroke-width="1"/>
<line x1="1020.23" x2="1020.23" y1="227.0" y2="242.0" stroke="#75655f" stroke-width="1.5"/>
<rect x="1018.48" y="237.4" width="3.5" height="1.7" fill="#f8625e" stroke="#8e211e" stroke-width="1"/>
<line x1="1026.49" x2="1026.49" y1="225.0" y2="257.5" stroke="#63716a" stroke-width="1.5"/>
<rect x="1024.74" y="237.4" width="3.5" height="9.7" fill="#14b072" stroke="#07613b" stroke-width="1"/>
<line x1="1032.76" x2="1032.76" y1="247.0" y2="348.8" stroke="#63716a" stroke-width="1.5"/>
<rect x="1031.01" y="247.9" width="3.5" height="81.0" fill="#14b072" stroke="#07613b" stroke-width="1"/>
<line x1="1039.03" x2="1039.03" y1="311.2" y2="330.5" stroke="#75655f" stroke-width="1.5"/>
<rect x="1037.28" y="319.6" width="3.5" height="9.2" fill="#f8625e" stroke="#8e211e" stroke-width="1"/>
<line x1="1045.29" x2="1045.29" y1="305.5" y2="320.0" stroke="#75655f" stroke-width="1.5"/>
<rect x="1043.54" y="308.6" width="3.5" height="10.2" fill="#f8625e" stroke="#8e211e" stroke-width="1"/>
<line x1="1051.56" x2="1051.56" y1="297.0" y2="320.0" stroke="#75655f" stroke-width="1.5"/>
<rect x="1049.81" y="299.1" width="3.5" height="19.7" fill="#f8625e" stroke="#8e211e" stroke-width="1"/>
<line x1="1057.82" x2="1057.82" y1="275.0" y2="302.0" stroke="#75655f" stroke-width="1.5"/>
<rect x="1056.07" y="279.1" width="3.5" height="19.2" fill="#f8625e" stroke="#8e211e" stroke-width="1"/>
<line x1="1064.09" x2="1064.09" y1="272.5" y2="288.8" stroke="#63716a" stroke-width="1.5"/>
<rect x="1062.34" y="278.4" width="3.5" height="9.2" fill="#14b072" stroke="#07613b" stroke-width="1"/>
<line x1="1070.36" x2="1070.36" y1="277.5" y2="304.5" stroke="#63716a" stroke-width="1.5"/>
<rect x="1068.26" y="288.0" width="4.2" height="1.5" fill="#07613b"/>
<line x1="1076.62" x2="1076.62" y1="263.0" y2="290.0" stroke="#75655f" stroke-width="1.5"/>
<rect x="1074.87" y="268.4" width="3.5" height="20.7" fill="#f8625e" stroke="#8e211e" stroke-width="1"/>
<line x1="1082.89" x2="1082.89" y1="268.0" y2="272.0" stroke="#63716a" stroke-width="1.5"/>
<rect x="1081.14" y="269.1" width="3.5" height="1.2" fill="#14b072" stroke="#07613b" stroke-width="1"/>
<line x1="1089.15" x2="1089.15" y1="266.2" y2="272.5" stroke="#75655f" stroke-width="1.5"/>
<rect x="1087.40" y="267.4" width="3.5" height="4.0" fill="#f8625e" stroke="#8e211e" stroke-width="1"/>
<polyline points="30.2,460.5 36.5,462.5 42.7,453.8 49.0,456.8 55.3,493.0 61.5,501.8 67.8,499.5 74.1,500.5 80.3,518.8 86.6,500.0 92.9,475.0 99.1,470.0 105.4,468.2 111.7,467.0 117.9,461.2 124.2,456.8 130.5,455.0 136.7,462.0 143.0,463.8 149.3,475.0 155.5,474.2 161.8,481.2 168.1,467.5 174.3,447.5 180.6,463.2 186.8,466.2 193.1,458.2 199.4,468.2 205.6,491.2 211.9,491.5 218.2,490.0 224.4,485.5 230.7,490.5 237.0,470.0 243.2,446.2 249.5,434.5 255.8,438.2 262.0,436.2 268.3,428.8 274.6,432.0 280.8,443.2 287.1,463.8 293.4,471.8 299.6,461.2 305.9,463.2 312.2,477.5 318.4,486.2 324.7,486.2 331.0,483.8 337.2,475.8 343.5,467.0 349.8,463.8 356.0,457.5 362.3,471.8 368.6,470.0 374.8,469.2 381.1,473.2 387.4,452.0 393.6,441.2 399.9,427.0 406.2,425.0 412.4,444.5 418.7,440.0 425.0,438.2 431.2,403.8 437.5,403.8 443.8,406.2 450.0,409.2 456.3,399.5 462.6,421.8 468.8,396.2 475.1,412.5 481.4,416.8 487.6,394.2 493.9,393.2 500.1,391.2 506.4,460.8 512.7,465.8 518.9,459.5 525.2,456.8 531.5,466.8 537.7,459.2 544.0,450.5 550.3,441.8 556.5,442.5 562.8,437.5 569.1,437.0 575.3,433.8 581.6,442.5 587.9,439.5 594.1,446.2 600.4,462.5 606.7,476.2 612.9,475.5 619.2,499.2 625.5,496.2 631.7,493.8 638.0,489.5 644.3,465.8 650.5,479.5 656.8,475.8 663.1,466.8 669.3,466.5 675.6,483.0 681.9,485.5 688.1,482.5 694.4,479.2 700.7,480.8 706.9,486.8 713.2,460.0 719.5,472.5 725.7,485.5 732.0,510.0 738.3,514.2 744.5,510.0 750.8,517.5 757.1,517.5 763.3,530.0 769.6,530.0 775.9,487.5 782.1,492.0 788.4,481.2 794.7,470.0 800.9,463.8 807.2,458.2 813.5,468.8 819.7,463.8 826.0,468.0 832.2,467.5 838.5,442.0 844.8,431.2 851.0,442.0 857.3,450.5 863.6,429.2 869.8,427.0 876.1,445.0 882.4,433.0 888.6,433.2 894.9,431.2 901.2,437.5 907.4,451.2 913.7,440.8 920.0,470.5 926.2,475.8 932.5,479.2 938.8,480.8 945.0,492.0 951.3,486.2 957.6,526.8 963.8,528.8 970.1,520.0 976.4,511.8 982.6,512.5 988.9,493.8 995.2,478.8 1001.4,473.2 1007.7,481.2 1014.0,489.2 1020.2,487.0 1026.5,495.0 1032.8,535.5 1039.0,524.5 1045.3,515.0 1051.6,506.2 1057.8,490.8 1064.1,495.8 1070.4,496.8 1076.6,478.8 1082.9,481.2 1089.2,477.0" fill="none" stroke="#ad84b9" stroke-width="1.2" stroke-linejoin="round"/>
<line x1="29" x2="1146" y1="409.8" y2="409.8" stroke="#939393" stroke-width="1.15" stroke-dasharray="5.4 4"/>
<line x1="29" x2="1146" y1="523.2" y2="523.2" stroke="#939393" stroke-width="1.15" stroke-dasharray="5.4 4"/>
<line x1="29" x2="1189" y1="373.5" y2="373.5" stroke="#6b6b6b" stroke-width="1.2"/>
<line x1="1146.6" x2="1146.6" y1="35" y2="545.5" stroke="#4a4a4a" stroke-width="1.3"/>
<line x1="29" x2="1147.2" y1="545.2" y2="545.2" stroke="#787878" stroke-width="1.15"/>
<rect x="1188.2" y="35" width="2.6" height="511.5" fill="#ebe9f7"/>
<line x1="80" x2="80" y1="545" y2="547.5" stroke="#6b6b6b" stroke-width="1"/>
<line x1="156" x2="156" y1="545" y2="547.5" stroke="#6b6b6b" stroke-width="1"/>
<line x1="231" x2="231" y1="545" y2="547.5" stroke="#6b6b6b" stroke-width="1"/>
<line x1="300" x2="300" y1="545" y2="547.5" stroke="#6b6b6b" stroke-width="1"/>
<line x1="381" x2="381" y1="545" y2="547.5" stroke="#6b6b6b" stroke-width="1"/>
<line x1="456" x2="456" y1="545" y2="547.5" stroke="#6b6b6b" stroke-width="1"/>
<line x1="531" x2="531" y1="545" y2="547.5" stroke="#6b6b6b" stroke-width="1"/>
<line x1="606" x2="606" y1="545" y2="547.5" stroke="#6b6b6b" stroke-width="1"/>
<line x1="676" x2="676" y1="545" y2="547.5" stroke="#6b6b6b" stroke-width="1"/>
<line x1="757.5" x2="757.5" y1="545" y2="547.5" stroke="#6b6b6b" stroke-width="1"/>
<line x1="870" x2="870" y1="545" y2="547.5" stroke="#6b6b6b" stroke-width="1"/>
<line x1="945" x2="945" y1="545" y2="547.5" stroke="#6b6b6b" stroke-width="1"/>
<line x1="1020" x2="1020" y1="545" y2="547.5" stroke="#6b6b6b" stroke-width="1"/>
<line x1="1133" x2="1133" y1="545" y2="547.5" stroke="#6b6b6b" stroke-width="1"/>
<g font-family="Liberation Sans, sans-serif" font-size="10.45" fill="#767676">
<line x1="1147" x2="1149.3" y1="60.0" y2="60.0" stroke="#555" stroke-width="1"/>
<text x="1152.8" y="63.8">1770.00</text>
<line x1="1147" x2="1149.3" y1="89.3" y2="89.3" stroke="#555" stroke-width="1"/>
<text x="1152.8" y="93.1">1760.00</text>
<line x1="1147" x2="1149.3" y1="118.6" y2="118.6" stroke="#555" stroke-width="1"/>
<text x="1152.8" y="122.4">1750.00</text>
<line x1="1147" x2="1149.3" y1="147.9" y2="147.9" stroke="#555" stroke-width="1"/>
<text x="1152.8" y="151.7">1740.00</text>
<line x1="1147" x2="1149.3" y1="177.2" y2="177.2" stroke="#555" stroke-width="1"/>
<text x="1152.8" y="181.0">1730.00</text>
<line x1="1147" x2="1149.3" y1="206.5" y2="206.5" stroke="#555" stroke-width="1"/>
<text x="1152.8" y="210.3">1720.00</text>
<line x1="1147" x2="1149.3" y1="235.8" y2="235.8" stroke="#555" stroke-width="1"/>
<text x="1152.8" y="239.6">1710.00</text>
<line x1="1147" x2="1149.3" y1="265.1" y2="265.1" stroke="#555" stroke-width="1"/>
<text x="1152.8" y="268.9">1700.00</text>
<line x1="1147" x2="1149.3" y1="294.4" y2="294.4" stroke="#555" stroke-width="1"/>
<text x="1152.8" y="298.2">1690.00</text>
<line x1="1147" x2="1149.3" y1="323.7" y2="323.7" stroke="#555" stroke-width="1"/>
<text x="1152.8" y="327.5">1680.00</text>
<line x1="1147" x2="1149.3" y1="353.0" y2="353.0" stroke="#555" stroke-width="1"/>
<text x="1152.8" y="356.8">1670.00</text>
<line x1="1147" x2="1149.3" y1="381.5" y2="381.5" stroke="#555" stroke-width="1"/>
<text x="1152.8" y="385.3">80.0000</text>
<line x1="1147" x2="1149.3" y1="409.9" y2="409.9" stroke="#555" stroke-width="1"/>
<text x="1152.8" y="413.7">70.0000</text>
<line x1="1147" x2="1149.3" y1="438.2" y2="438.2" stroke="#555" stroke-width="1"/>
<text x="1152.8" y="442.0">60.0000</text>
<line x1="1147" x2="1149.3" y1="466.6" y2="466.6" stroke="#555" stroke-width="1"/>
<text x="1152.8" y="470.4">50.0000</text>
<line x1="1147" x2="1149.3" y1="494.9" y2="494.9" stroke="#555" stroke-width="1"/>
<text x="1152.8" y="498.7">40.0000</text>
<line x1="1147" x2="1149.3" y1="523.2" y2="523.2" stroke="#555" stroke-width="1"/>
<text x="1152.8" y="527.0">30.0000</text>
</g>
<rect x="1190.8" y="0" width="10" height="554" fill="#fff"/>
<rect x="1188.2" y="35" width="2.6" height="511.5" fill="#ebe9f7"/>
<polygon points="1083.55,263.45 1117.15,263.45 1117.15,255.6 1132.4,270.9 1117.15,286.2 1117.15,278.85 1083.55,278.85" fill="none" stroke="#fb0a0a" stroke-width="3.5" stroke-linejoin="miter" stroke-miterlimit="10"/>
<g font-family="'Liberation Sans', 'Noto Sans CJK SC', sans-serif" font-size="13.6" fill="#e9514d" stroke="#e9514d" stroke-width="0.12">
<text x="998.6" y="194.3">压力</text><text x="1026.3" y="194.3" textLength="31" lengthAdjust="spacingAndGlyphs">1720</text>
<text x="993" y="367.3">支撑</text><text x="1020.6" y="367.3" textLength="31" lengthAdjust="spacingAndGlyphs">1675</text>
<text x="869.5" y="463" font-size="13.3" textLength="86" lengthAdjust="spacingAndGlyphs">RSI在50附近，</text><text x="960" y="463" font-size="13.3">震荡结构</text>
</g>
</g>
<g fill="#0a0a0a">
<text transform="translate(531.6,53.6) scale(0.66,1)" text-anchor="middle" font-family="'Liberation Serif', serif" font-size="34">X</text>
<text transform="translate(547.2,53.6) scale(0.66,1)" text-anchor="middle" font-family="'Liberation Serif', serif" font-size="34">A</text>
<text transform="translate(562.6,53.6) scale(0.66,1)" text-anchor="middle" font-family="'Liberation Serif', serif" font-size="34">U</text>
<text transform="translate(596,53.6) scale(0.86,1)" text-anchor="middle" font-family="'Liberation Serif', serif" font-size="34">4</text>
<text x="629 661 693 726" y="54.5" text-anchor="middle" font-family="'Noto Serif CJK SC', 'Liberation Serif', serif" font-weight="300" font-size="31.5">小时走势</text>
</g>
</svg>
</body></html>
